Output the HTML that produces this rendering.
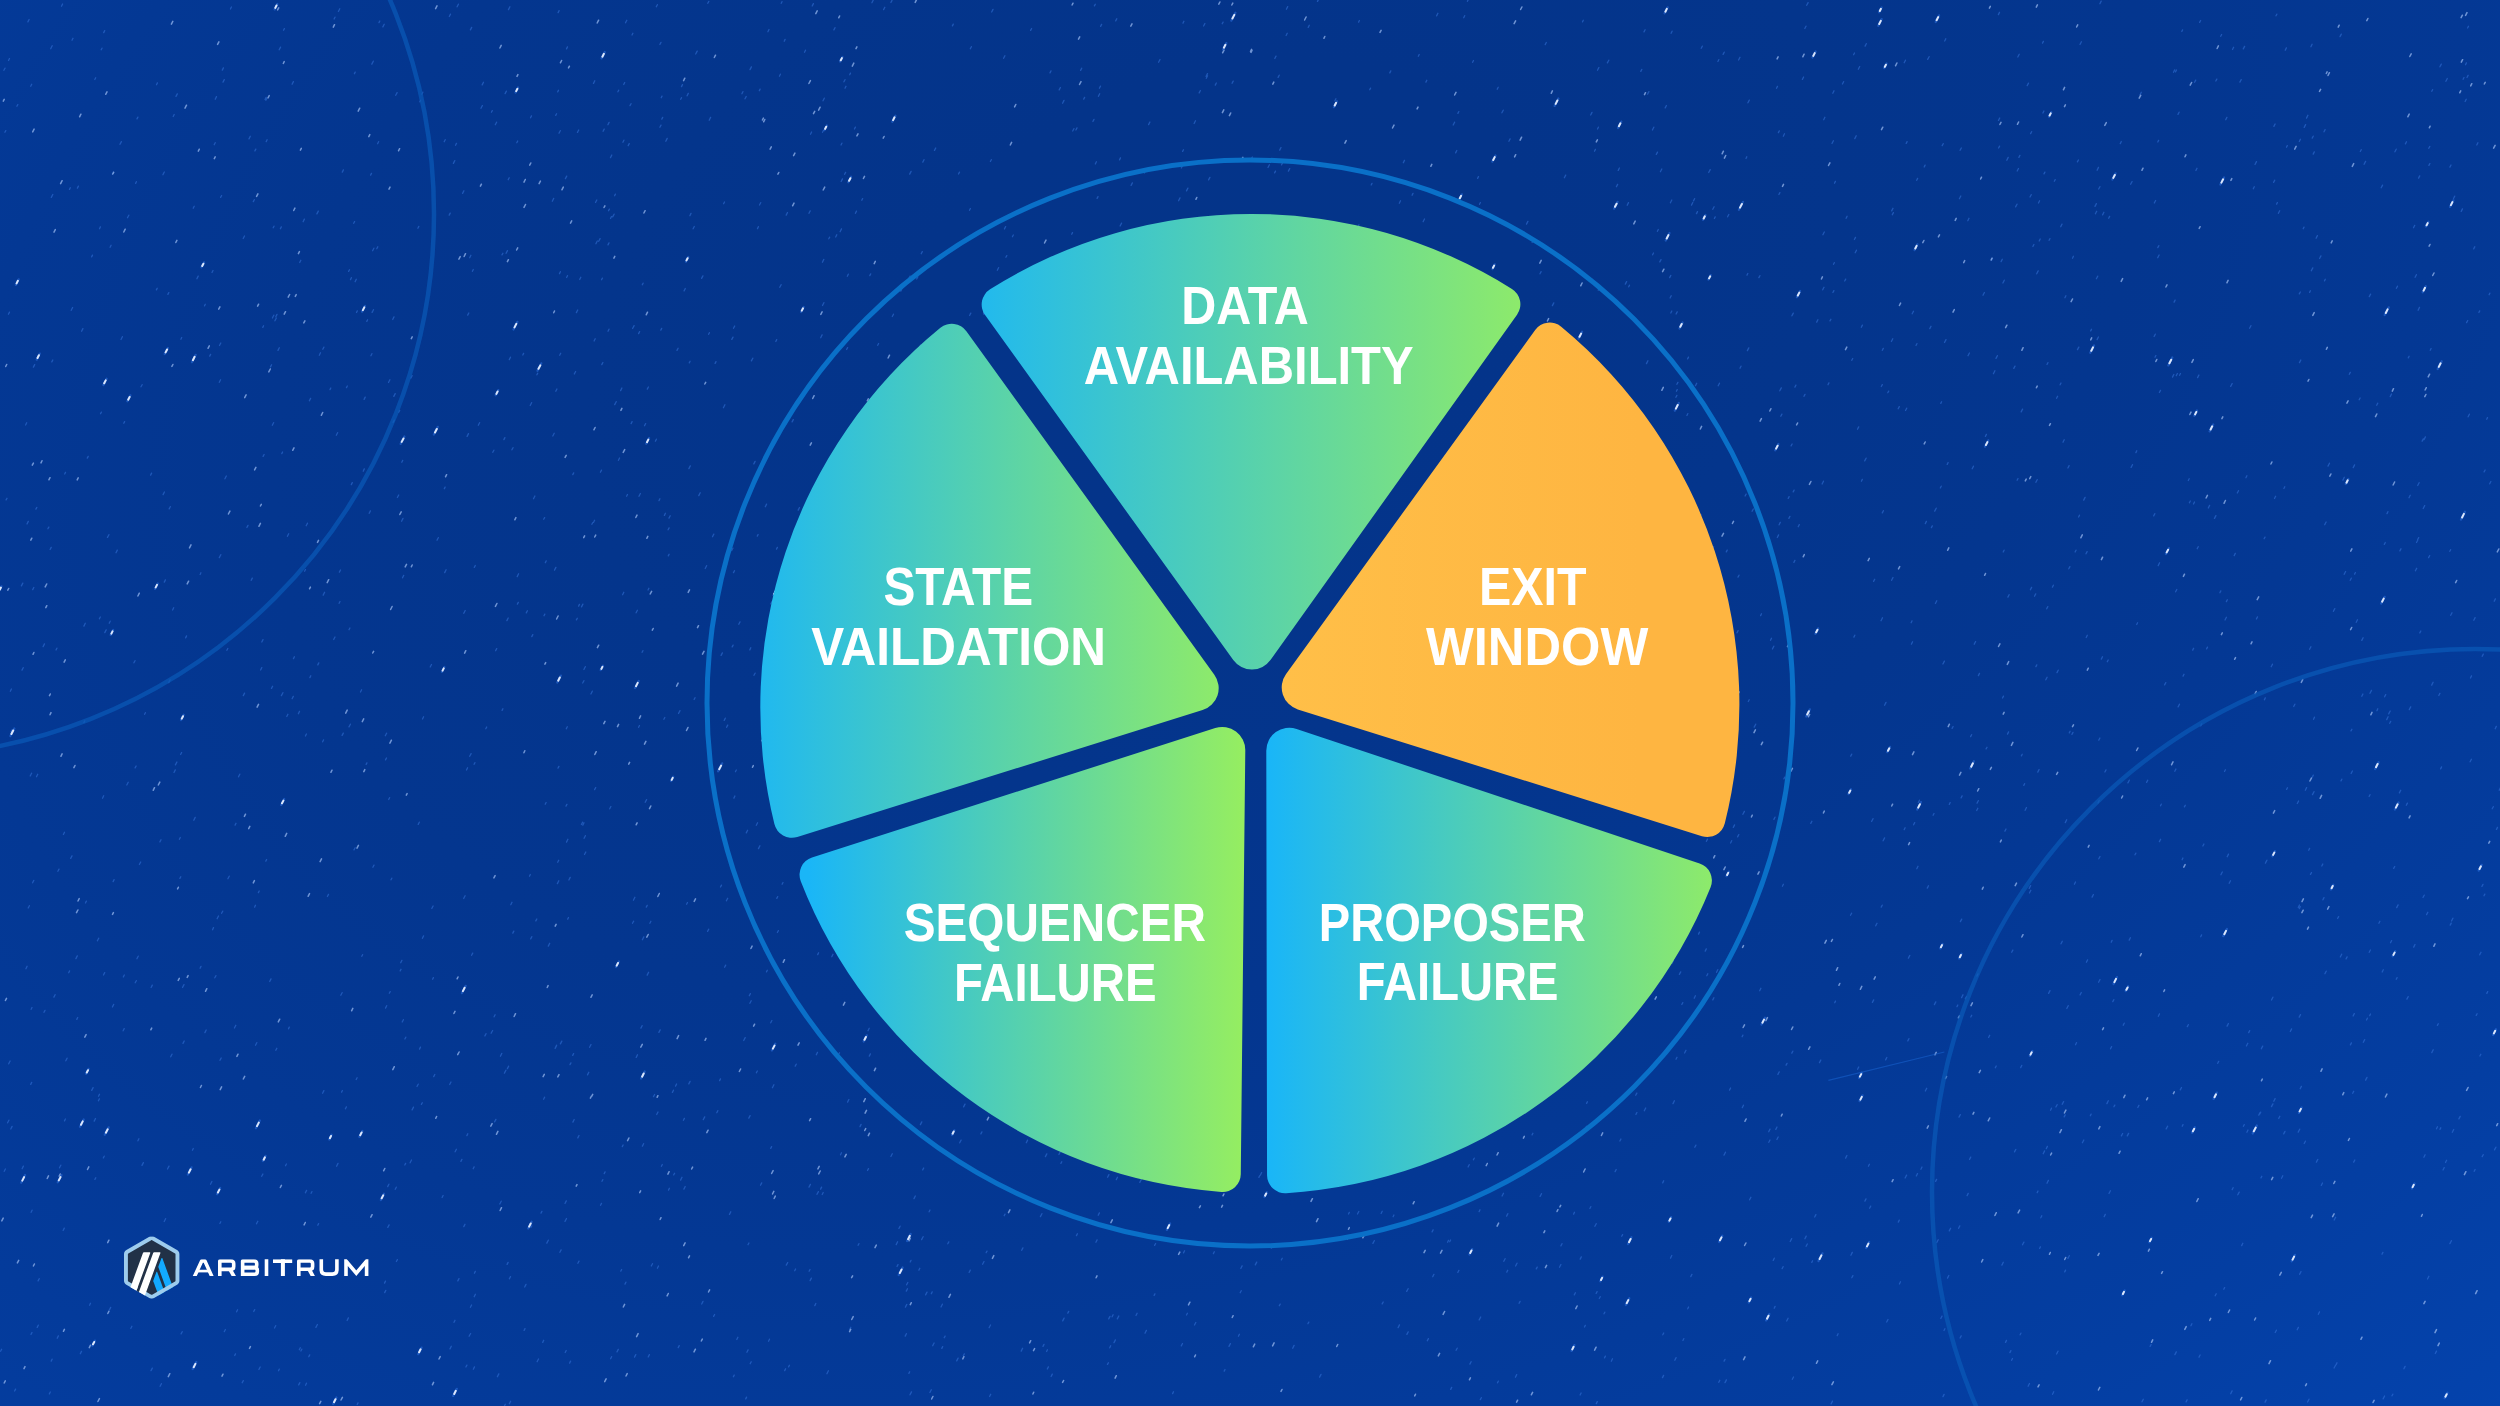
<!DOCTYPE html><html><head><meta charset="utf-8"><style>html,body{margin:0;padding:0;background:#04378f}body{width:2500px;height:1406px;overflow:hidden}svg{display:block}text{font-family:"Liberation Sans",sans-serif;font-weight:700}</style></head><body>
<svg width="2500" height="1406" viewBox="0 0 2500 1406">
<defs>
<radialGradient id="bg" gradientUnits="userSpaceOnUse" cx="0" cy="0" r="1" gradientTransform="translate(1210,300) rotate(-21.6) scale(2600,1784)"><stop offset="0.000" stop-color="rgb(4,51.7,137.0)"/><stop offset="0.125" stop-color="rgb(4,52.0,137.7)"/><stop offset="0.250" stop-color="rgb(4,52.9,139.8)"/><stop offset="0.375" stop-color="rgb(4,54.3,143.3)"/><stop offset="0.500" stop-color="rgb(4,56.4,148.2)"/><stop offset="0.625" stop-color="rgb(4,59.0,154.5)"/><stop offset="0.750" stop-color="rgb(4,62.3,162.2)"/><stop offset="0.875" stop-color="rgb(4,66.1,171.3)"/><stop offset="1.000" stop-color="rgb(4,70.5,181.8)"/></radialGradient>
<linearGradient id="gDATA" gradientUnits="userSpaceOnUse" x1="941" y1="0" x2="1567" y2="0"><stop offset="0" stop-color="#1AB6F7"/><stop offset="1" stop-color="#96EE60"/></linearGradient>
<linearGradient id="gSTATE" gradientUnits="userSpaceOnUse" x1="733" y1="0" x2="1255" y2="0"><stop offset="0" stop-color="#1AB6F7"/><stop offset="1" stop-color="#96EE60"/></linearGradient>
<linearGradient id="gSEQ" gradientUnits="userSpaceOnUse" x1="809" y1="0" x2="1246" y2="0"><stop offset="0" stop-color="#1AB6F7"/><stop offset="1" stop-color="#96EE60"/></linearGradient>
<linearGradient id="gPROP" gradientUnits="userSpaceOnUse" x1="1270" y1="0" x2="1745" y2="0"><stop offset="0" stop-color="#1AB6F7"/><stop offset="1" stop-color="#96EE60"/></linearGradient>
<linearGradient id="gEXIT" gradientUnits="userSpaceOnUse" x1="1282" y1="0" x2="1640" y2="0"><stop offset="0" stop-color="#FFBF48"/><stop offset="1" stop-color="#FEB541"/></linearGradient>
<filter id="sblur" x="0" y="0" width="2500" height="1406" filterUnits="userSpaceOnUse"><feGaussianBlur stdDeviation="0.35"/></filter>
</defs>
<rect width="2500" height="1406" fill="url(#bg)"/>
<g filter="url(#sblur)">
<path d="M809.0 213.3l1.2 -2.4M180.6 754.5l1.0 -2.0M144.6 714.3l0.8 -1.6M1083.7 99.1l0.9 -1.7M1060.9 1163.4l0.9 -1.7M557.4 883.6l1.4 -2.8M2439.9 66.8l1.4 -2.7M723.6 203.7l0.9 -1.7M770.7 1148.4l0.9 -1.8M156.5 84.7l0.9 -1.8M784.8 824.4l1.1 -2.2M748.8 1118.1l1.3 -2.5M609.7 808.8l1.2 -2.3M2187.3 1026.6l1.0 -1.9M2449.9 167.1l1.1 -2.1M1892.3 214.8l1.1 -2.2M97.4 940.8l1.3 -2.6M1432.1 1231.9l1.0 -2.0M1737.6 836.9l1.2 -2.3M1139.8 1182.4l1.4 -2.8M151.1 987.5l1.2 -2.4M2482.2 1156.6l1.0 -1.9M56.0 650.0l0.9 -1.8M292.1 84.2l1.3 -2.6M322.8 349.2l1.1 -2.1M2178.0 114.4l1.1 -2.2M1372.9 1243.4l1.4 -2.7M2159.4 392.5l1.1 -2.1M896.2 1244.6l1.4 -2.8M376.8 248.7l1.0 -1.9M582.7 683.0l1.2 -2.3M656.3 6.8l1.1 -2.1M2382.2 972.0l1.1 -2.2M1949.3 1230.9l1.3 -2.6M258.4 892.6l0.8 -1.6M167.9 294.4l0.9 -1.8M849.7 74.7l0.8 -1.6M377.6 143.7l1.0 -2.0M63.1 1230.5l1.2 -2.4M370.9 355.7l1.0 -2.0M909.7 174.1l1.4 -2.7M2482.2 656.3l1.1 -2.2M214.2 144.7l1.0 -2.0M661.4 1166.3l0.9 -1.8M57.2 1338.2l1.2 -2.3M366.1 764.5l0.8 -1.6M1319.6 1377.1l1.4 -2.7M1740.0 368.2l1.0 -2.0M417.0 1086.5l1.2 -2.3M1947.2 464.4l0.9 -1.9M2028.1 1386.2l1.4 -2.7M2014.5 1151.9l1.3 -2.5M566.3 728.8l1.0 -2.0M72.0 40.2l1.0 -1.9M647.2 975.1l1.4 -2.8M1117.3 1318.9l1.5 -2.9M2387.0 513.6l0.9 -1.9M566.6 277.5l0.9 -1.8M1559.5 1267.2l1.4 -2.7M1998.5 120.4l1.2 -2.4M2273.8 1101.2l1.3 -2.6M1972.2 468.8l1.3 -2.6M2428.6 557.6l1.1 -2.1M2366.5 1020.0l0.9 -1.8M316.9 213.9l1.4 -2.8M2015.6 206.9l1.4 -2.7M2450.2 925.1l1.0 -2.0M1371.2 185.0l0.8 -1.6M2426.6 914.6l1.2 -2.3M2333.4 611.3l1.4 -2.7M2064.9 297.7l1.0 -1.9M731.8 339.4l1.2 -2.3M648.0 590.0l0.9 -1.7M2274.5 498.5l1.1 -2.2M1457.8 1272.5l1.1 -2.1M2293.7 706.5l1.2 -2.3M1308.2 27.4l1.1 -2.1M457.1 6.8l1.3 -2.6M430.2 667.0l1.3 -2.5M1960.1 150.3l1.2 -2.3M620.6 390.6l1.3 -2.6M1899.4 1284.0l1.1 -2.2M1194.5 1325.0l1.3 -2.5M2190.9 1325.7l1.0 -1.9M1398.1 1327.6l1.4 -2.7M342.3 172.1l1.1 -2.2M180.9 339.2l0.8 -1.7M1673.0 1103.6l1.4 -2.8M385.5 1008.1l1.2 -2.4M2418.1 310.2l1.4 -2.8M2474.2 1171.3l0.9 -1.8M847.3 276.2l1.0 -2.0M1804.8 28.5l1.2 -2.3M1100.6 26.4l1.0 -2.0M160.1 1386.3l1.3 -2.6M2428.8 148.3l1.0 -1.9M98.5 1096.2l1.0 -1.9M323.2 595.1l1.4 -2.8M2047.0 364.5l0.9 -1.8M2297.3 803.5l1.3 -2.5M223.0 82.1l1.3 -2.5M1062.6 103.2l1.4 -2.8M1585.7 1127.9l0.9 -1.7M2139.9 95.0l1.4 -2.7M1382.2 1303.9l1.0 -1.9M322.6 741.8l1.0 -1.9M273.2 227.8l0.8 -1.6M503.9 439.6l1.0 -2.0M1898.2 408.8l1.1 -2.2M444.3 488.7l0.8 -1.6M625.5 22.8l1.3 -2.5M1186.5 1315.0l0.9 -1.7M2046.7 608.8l1.1 -2.2M2086.0 553.8l1.1 -2.2M1718.8 1382.3l1.0 -2.0M2080.1 994.9l1.2 -2.4M135.6 183.4l0.8 -1.7M1851.8 360.3l0.9 -1.8M210.5 1184.2l1.4 -2.7M1675.9 397.3l1.0 -1.9M732.2 646.9l0.9 -1.8M2403.9 1368.7l1.2 -2.3M610.6 1358.7l1.0 -2.0M890.9 2.5l1.1 -2.1M502.1 710.4l0.8 -1.6M659.9 127.2l1.1 -2.1M103.7 32.6l1.0 -2.0M581.4 824.5l1.2 -2.3M1875.7 925.8l1.3 -2.5M2197.2 548.7l1.0 -2.0M2461.2 211.4l1.3 -2.5M1607.4 62.9l1.4 -2.7M2229.2 883.3l1.3 -2.5M2030.0 197.0l1.2 -2.3M1260.3 1175.2l1.3 -2.6M2065.3 822.6l1.4 -2.8M1706.8 975.7l1.0 -1.9M77.4 188.1l1.0 -2.0M261.7 1176.3l1.2 -2.3M7.6 1122.8l1.3 -2.6M1647.6 94.1l1.3 -2.5M630.0 105.6l1.0 -1.9M1822.7 289.8l1.3 -2.5M2438.8 695.5l1.1 -2.1M1916.8 868.7l1.2 -2.4M193.2 208.2l1.0 -1.9M1857.5 429.2l1.2 -2.3M30.7 86.2l1.0 -1.9M1679.4 974.4l1.3 -2.5M726.6 727.3l1.1 -2.2M1165.1 168.0l1.4 -2.8M497.4 1376.7l1.4 -2.8M43.1 646.6l1.4 -2.7M2419.8 632.9l1.0 -1.9M524.1 1330.4l0.9 -1.8M1453.1 200.4l1.2 -2.3M2381.2 187.8l1.4 -2.7M1271.2 1248.2l1.3 -2.5M577.9 1263.3l1.1 -2.2M61.5 6.2l1.1 -2.2M351.3 484.6l1.0 -2.0M2099.9 3.7l1.3 -2.6M2097.1 170.2l1.4 -2.8M1782.1 1268.6l1.0 -1.9M2496.5 829.4l1.0 -2.0M120.0 144.3l1.4 -2.7M713.6 1316.4l1.0 -1.9M663.9 719.3l0.9 -1.8M932.7 1345.7l1.4 -2.7M2029.2 888.4l1.4 -2.8M2351.1 773.5l1.3 -2.5M123.1 1030.8l1.1 -2.2M1881.2 907.1l1.0 -1.9M317.8 664.9l1.0 -2.0M743.7 1040.5l1.5 -2.9M649.9 923.3l1.0 -2.0M417.9 228.2l0.9 -1.8M2264.4 699.8l0.9 -1.9M2265.1 1402.1l1.1 -2.2M348.6 271.4l0.9 -1.7M854.4 129.0l1.0 -1.9M645.2 802.3l1.4 -2.7M1873.6 581.4l1.1 -2.1M845.0 88.2l1.0 -1.9M2418.6 178.1l1.1 -2.2M1573.6 1214.1l0.9 -1.8M677.0 350.4l1.1 -2.1M1114.0 1342.6l1.4 -2.7M2181.8 31.5l0.8 -1.6M1773.2 1260.4l1.1 -2.2M1467.4 1.3l1.1 -2.1M2316.4 1162.1l1.4 -2.7M2430.2 350.2l0.9 -1.7M385.3 735.7l1.3 -2.5M2353.1 1016.0l1.2 -2.4M1911.4 644.1l1.2 -2.3M98.4 1100.8l1.0 -1.9M2299.3 908.6l1.0 -2.0M319.3 355.2l1.2 -2.4M1746.0 158.5l0.8 -1.7M969.6 315.5l1.2 -2.4M25.6 425.0l1.1 -2.2M2396.7 907.6l1.4 -2.7M617.0 1351.9l1.3 -2.5M767.9 31.7l1.1 -2.2M642.4 939.7l1.4 -2.8M566.5 48.9l1.0 -2.0M494.6 1121.9l1.3 -2.5M2424.0 439.6l1.4 -2.7M576.4 312.6l1.3 -2.6M736.8 1339.5l1.1 -2.2M467.7 315.1l1.1 -2.1M1662.8 1334.8l0.9 -1.8M982.9 300.8l1.5 -2.9M354.4 73.7l0.8 -1.6M982.6 1264.2l1.4 -2.7M1831.1 1403.9l1.4 -2.8M822.4 262.2l1.4 -2.8M1865.1 46.1l1.2 -2.4M828.8 238.8l0.8 -1.6M698.8 495.6l1.4 -2.8M308.8 1356.7l0.9 -1.8M890.9 1156.5l1.4 -2.7M1080.6 70.4l1.1 -2.2M931.3 1293.7l0.9 -1.8M910.2 1262.0l0.8 -1.6M1026.3 1142.7l1.3 -2.6M101.2 49.8l0.8 -1.6M2299.5 362.6l1.3 -2.6M2245.9 477.7l1.0 -1.9M2393.7 868.4l1.0 -1.9M1791.1 445.9l1.0 -1.9M8.7 1063.8l1.4 -2.8M1584.5 1327.0l0.8 -1.6M583.9 669.5l1.4 -2.8M2384.3 544.4l1.0 -1.9M2319.6 258.5l1.3 -2.6M1845.6 1158.1l1.3 -2.6M798.2 510.1l1.3 -2.6M196.9 278.7l1.3 -2.6M617.9 91.8l0.8 -1.6M2449.9 1243.6l1.5 -2.9M661.8 119.1l0.9 -1.7M1684.6 1053.0l1.4 -2.7M1660.4 171.7l1.4 -2.7M733.9 798.1l1.0 -2.1M1844.7 281.0l1.0 -1.9M612.7 216.9l1.4 -2.7M989.6 1396.5l1.1 -2.2M577.8 1137.9l1.2 -2.4M2476.8 145.0l1.1 -2.2M2047.0 1183.2l1.4 -2.8M100.5 413.8l0.9 -1.7M473.3 1369.2l1.2 -2.3M2324.7 524.7l1.4 -2.7M1944.0 1330.5l0.9 -1.7M543.7 519.3l0.9 -1.7M509.3 359.6l1.2 -2.4M1628.7 286.8l0.8 -1.6M817.7 954.6l0.9 -1.8M779.8 287.3l1.3 -2.6M1369.7 89.8l0.9 -1.7M1597.5 129.0l0.9 -1.8M1738.0 577.1l1.0 -1.9M768.5 1341.2l1.0 -2.0M1040.4 1216.6l1.5 -2.9M908.8 278.5l1.3 -2.5M508.5 9.6l1.4 -2.8M1058.9 1154.5l1.1 -2.1M2206.6 648.9l0.9 -1.8M36.5 776.7l1.2 -2.4M2273.9 126.4l1.2 -2.4M364.1 399.4l1.1 -2.3M2313.2 154.1l1.1 -2.2M2011.6 1360.3l0.9 -1.8M315.9 1327.4l1.5 -2.9M1206.1 76.4l1.4 -2.8M969.1 1272.5l1.2 -2.4M2060.7 226.7l1.3 -2.6M554.5 570.1l1.4 -2.7M2072.5 258.2l0.9 -1.9M958.5 174.0l1.0 -1.9M1811.8 1262.4l0.8 -1.6M94.9 1179.4l0.9 -1.7M57.9 871.3l1.1 -2.2M587.5 1074.9l1.3 -2.6M1182.6 151.4l0.9 -1.7M1075.9 130.0l1.1 -2.1M1274.8 58.5l1.2 -2.4M204.9 1032.6l1.3 -2.6M1278.1 77.4l1.1 -2.2M944.2 1337.8l0.9 -1.7M2142.0 1401.8l1.3 -2.5M2036.7 273.8l1.5 -2.9M1229.0 1346.4l1.4 -2.8M412.1 1109.9l1.4 -2.8M163.1 494.6l1.3 -2.6M396.4 1261.5l1.0 -1.9M2038.5 203.0l1.1 -2.2M2299.3 293.9l1.0 -1.9M91.6 256.9l0.9 -1.8M2340.3 957.0l1.4 -2.8M421.4 1104.4l0.9 -1.7M898.9 1228.5l1.2 -2.3M1449.7 1241.7l0.9 -1.7M2481.9 886.5l1.1 -2.1M1993.4 373.7l1.5 -2.9M1911.1 622.7l0.9 -1.8M1858.3 69.2l1.4 -2.7M633.4 900.2l1.5 -2.9M781.2 3.3l0.8 -1.6M372.9 867.2l1.1 -2.1M1281.3 1260.0l0.9 -1.7M567.7 919.1l0.8 -1.6M6.1 499.9l0.9 -1.7M892.3 316.5l1.2 -2.3M1472.1 288.3l1.2 -2.4M1186.5 190.9l1.4 -2.8M608.5 210.8l0.9 -1.7M1594.9 1226.3l1.3 -2.6M28.2 908.0l1.2 -2.3M1108.7 1318.9l1.3 -2.5M620.8 1271.1l0.8 -1.6M593.5 83.4l1.3 -2.6M30.2 776.0l1.4 -2.8M355.1 281.7l1.2 -2.4M2032.9 246.5l1.0 -2.0M750.0 69.6l1.4 -2.7M1957.0 1006.6l0.8 -1.6M2110.5 1048.8l1.1 -2.2M1853.9 637.1l0.9 -1.9M262.8 327.4l0.8 -1.6M838.2 1055.3l1.3 -2.5M2112.8 1001.6l1.0 -1.9M1970.6 736.6l1.0 -1.9M1604.5 1357.9l0.9 -1.8M2199.6 22.4l1.0 -1.9M589.6 1047.3l1.4 -2.8M1864.7 460.9l1.4 -2.7M820.7 337.7l1.4 -2.8M1662.5 1377.6l1.1 -2.2M2098.6 982.2l1.4 -2.7M529.5 876.2l0.8 -1.7M2276.6 204.1l0.8 -1.6M861.8 200.2l0.8 -1.6M103.5 975.0l1.2 -2.4M1742.1 1036.7l0.8 -1.6M2043.2 1153.7l1.4 -2.8M164.2 1221.5l1.4 -2.8M2360.3 151.5l0.9 -1.8M279.2 49.8l1.4 -2.7M2029.4 893.0l1.4 -2.7M249.0 138.9l1.3 -2.6M511.9 449.8l1.1 -2.1M51.8 361.9l1.0 -1.9M1788.9 518.4l1.0 -2.0M2409.3 709.6l1.4 -2.7M1545.2 44.6l1.1 -2.1M866.4 991.9l1.2 -2.3M541.0 1213.1l0.9 -1.7M2049.1 240.3l0.8 -1.6M504.4 1073.1l1.5 -2.9M10.3 691.2l1.1 -2.2M1991.4 260.5l1.1 -2.2M867.5 1170.5l1.0 -1.9M2359.2 399.8l0.9 -1.8M1748.3 701.5l0.9 -1.7M1590.7 115.0l1.3 -2.6M1742.3 1107.6l1.2 -2.4M986.1 1252.8l0.9 -1.7M2220.7 36.3l0.9 -1.8M657.4 1268.2l1.1 -2.2M947.8 1243.8l1.0 -1.9M1885.6 1059.9l1.2 -2.4M387.7 1186.6l1.2 -2.4M1854.4 239.5l1.1 -2.1M1933.1 815.2l0.9 -1.7M1154.6 1245.4l1.0 -1.9M478.3 425.2l1.3 -2.5M2108.7 218.2l0.9 -1.8M618.4 460.3l1.2 -2.3M401.8 462.2l0.9 -1.8M2437.4 1025.4l0.9 -1.7M2405.4 143.9l1.1 -2.1M2458.9 1118.9l1.3 -2.5M1594.5 151.2l0.9 -1.8M970.3 48.8l1.1 -2.1M1976.9 976.1l1.1 -2.2M354.0 849.9l1.1 -2.1M1851.8 1277.7l1.1 -2.1M1804.9 1238.7l1.3 -2.6M1749.6 1199.8l1.3 -2.5M782.1 884.2l0.9 -1.7M1782.4 886.2l1.0 -1.9M1687.7 1308.8l0.9 -1.8M1635.7 1095.2l1.1 -2.1M1224.2 1371.1l0.8 -1.6M1357.7 227.4l1.3 -2.6M2351.0 730.9l0.9 -1.7M1792.6 721.3l1.2 -2.4M2071.9 734.5l1.1 -2.1M2369.3 296.6l1.3 -2.5M305.5 1385.2l1.0 -2.0M141.0 386.8l1.1 -2.1M32.7 589.6l1.1 -2.1M1745.1 496.0l1.0 -1.9M560.4 1043.9l1.4 -2.8M2003.2 552.0l0.9 -1.8M322.6 1093.2l1.3 -2.6M2409.0 497.7l1.2 -2.4M2046.3 1148.6l1.1 -2.2M735.4 771.7l0.9 -1.7M2083.7 500.1l1.4 -2.7M668.1 529.8l1.0 -1.9M1064.9 262.1l0.8 -1.6M1804.0 396.3l1.0 -1.9M754.0 675.3l1.1 -2.1M905.4 1307.1l1.4 -2.7M142.0 1165.4l1.4 -2.8M1959.4 198.7l1.4 -2.7M1582.5 21.9l0.8 -1.6M2378.9 923.2l1.0 -1.9M253.3 201.6l1.0 -1.9M1940.3 488.0l0.9 -1.8M2259.8 1114.0l0.9 -1.8M2227.2 856.7l1.3 -2.6M1670.5 1258.1l1.3 -2.6M2096.4 278.7l1.3 -2.5M1095.9 1242.2l1.2 -2.3M660.8 330.1l0.9 -1.7M1232.1 83.3l1.1 -2.2M360.5 692.0l1.1 -2.2M1348.5 1214.0l0.8 -1.6M2101.3 659.1l1.2 -2.3M1662.7 1182.9l1.0 -2.1M1046.6 1351.5l0.8 -1.7M70.7 858.4l1.3 -2.5M2328.0 466.1l1.5 -2.9M2243.3 48.9l1.3 -2.5M2153.7 515.9l1.1 -2.2M526.3 612.9l1.1 -2.1M1384.6 1163.4l1.0 -2.0M2068.8 568.8l1.1 -2.2M678.5 713.5l1.5 -2.9M1635.9 1114.5l1.0 -2.0M792.1 421.9l1.2 -2.3M1586.6 1103.4l0.8 -1.6M1806.1 1246.3l1.2 -2.3M123.8 423.2l0.8 -1.6M474.2 1296.7l1.2 -2.4M1644.3 1110.8l1.4 -2.8M530.7 938.9l1.1 -2.2M1906.2 143.4l0.9 -1.8M91.7 1090.4l1.4 -2.8M2055.9 1107.0l1.2 -2.3M644.5 425.7l1.1 -2.1M1604.0 1313.8l0.8 -1.6M1418.3 56.2l0.9 -1.7M2025.1 810.3l1.4 -2.8M1115.7 20.9l1.1 -2.1M1479.2 1319.9l1.5 -2.9M254.6 907.1l0.9 -1.8M379.0 22.6l0.8 -1.6M1708.7 172.5l1.5 -2.9M219.9 1223.5l0.9 -1.7M44.0 1012.3l1.0 -1.9M1833.5 264.3l0.8 -1.6M1934.4 1004.6l1.4 -2.7M1823.7 119.7l1.2 -2.4M1772.4 649.0l1.4 -2.8M634.5 1357.1l1.3 -2.5M27.9 21.9l1.2 -2.4M2042.9 113.0l1.0 -2.0M1822.9 234.7l1.4 -2.7M1215.3 85.1l1.0 -2.1M1691.5 205.1l1.3 -2.6M963.6 1106.9l1.4 -2.8M1961.1 797.9l1.0 -2.0M151.0 1370.6l1.3 -2.5M2067.9 468.0l1.2 -2.4M2443.0 1170.0l1.2 -2.4M770.8 603.9l1.4 -2.7M1503.8 1261.3l1.3 -2.6M707.8 3.3l1.0 -1.9M2039.6 1248.5l0.8 -1.6M2082.4 1142.7l1.4 -2.7M2127.3 1135.9l1.3 -2.5M2283.9 488.5l0.9 -1.7M500.4 1056.2l1.4 -2.8M584.5 854.5l1.3 -2.5M636.2 1057.4l1.3 -2.6M1148.6 124.6l1.3 -2.6M1929.8 328.6l1.2 -2.3M2241.7 1245.6l1.1 -2.3M472.4 271.3l0.9 -1.8M1752.1 511.3l1.2 -2.3M371.8 64.1l1.5 -2.9M934.5 150.4l1.2 -2.4M1967.8 220.7l1.2 -2.4M50.7 48.7l1.5 -2.9M2164.6 684.9l1.2 -2.3M653.5 1096.6l1.1 -2.1M2365.6 1080.1l1.4 -2.7M2408.3 357.9l0.8 -1.6M502.0 254.9l0.9 -1.7M126.8 785.0l1.4 -2.7M1145.0 1333.2l1.4 -2.8M159.9 841.9l1.1 -2.1M299.3 1349.7l1.0 -1.9M2390.5 942.7l1.1 -2.1M1120.1 226.0l1.5 -2.9M2478.9 312.5l0.8 -1.6M639.0 496.3l1.4 -2.8M2261.0 1177.9l0.8 -1.6M1965.3 998.9l1.2 -2.4M2463.1 79.3l0.9 -1.8M1886.7 1322.0l1.3 -2.5M746.3 832.9l1.3 -2.6M263.1 456.4l1.0 -1.9M309.9 677.6l0.9 -1.8M595.5 202.5l1.3 -2.5M31.1 1009.3l0.9 -1.8M89.6 1305.2l0.9 -1.9M2334.2 1220.0l1.4 -2.7M349.0 629.7l0.9 -1.7M2321.3 1185.4l1.2 -2.4M2057.0 672.6l1.2 -2.4M356.5 312.5l0.8 -1.6M1783.9 778.9l0.9 -1.8M2176.3 375.6l1.1 -2.1M388.5 382.5l1.4 -2.7M835.7 237.0l1.1 -2.2M794.7 1270.7l0.9 -1.7M2445.9 81.3l1.4 -2.8M1670.1 298.0l1.1 -2.2M715.1 363.4l0.9 -1.8M910.0 1394.8l1.5 -2.9M2312.2 138.1l1.0 -1.9M2239.9 82.1l1.3 -2.5M733.4 1376.7l0.8 -1.6M2017.1 480.2l0.9 -1.7M4.2 1171.3l1.2 -2.3M463.8 613.3l1.4 -2.8M545.2 804.2l0.9 -1.7M449.7 1084.5l1.3 -2.5M491.4 112.3l0.9 -1.7M684.1 290.9l1.2 -2.4M1768.8 1142.3l1.2 -2.3M505.1 93.6l1.3 -2.5M137.9 1140.8l1.0 -2.0M2104.2 1216.6l1.1 -2.2M38.1 1280.9l1.1 -2.2M2179.6 375.3l0.9 -1.8M2078.6 517.0l0.9 -1.8M11.0 731.9l1.1 -2.2M1288.4 171.1l1.3 -2.5M2040.8 1217.8l1.0 -2.0M1777.3 537.5l1.3 -2.6M2384.6 696.8l1.1 -2.2M51.2 1361.1l0.9 -1.9M455.5 145.3l1.0 -1.9M2042.5 43.1l0.9 -1.7M1747.0 275.1l0.8 -1.6M256.5 1223.8l1.3 -2.5M112.4 174.1l1.1 -2.2M304.6 571.2l0.9 -1.7M1479.1 1211.6l0.9 -1.8M410.1 1162.8l1.4 -2.8M2098.8 740.1l1.1 -2.1M2352.7 1093.3l1.0 -2.0M600.4 472.2l1.1 -2.1M2452.3 1132.3l1.4 -2.8M2037.2 1192.6l0.8 -1.6M1292.7 1348.2l1.4 -2.8M622.6 594.7l1.2 -2.4M172.6 610.0l1.1 -2.2M51.3 197.4l1.5 -2.9M1940.8 1318.5l1.2 -2.4M2022.5 1244.8l1.4 -2.7M85.4 903.0l1.0 -1.9M1695.5 385.6l1.2 -2.3M2310.5 874.4l1.0 -1.9M2376.7 405.2l1.0 -2.0M1618.2 170.4l1.2 -2.4M2389.7 723.3l1.0 -1.9M370.6 175.1l0.9 -1.7M733.5 572.6l1.0 -1.9M607.9 124.7l1.2 -2.3M2098.8 858.8l1.2 -2.3M1625.3 284.1l1.3 -2.5M775.8 341.5l0.9 -1.9M1463.7 17.7l1.0 -2.0M2154.1 336.5l1.2 -2.3M2468.1 416.8l1.3 -2.6M395.7 95.3l1.4 -2.7M1099.4 88.2l1.1 -2.1M272.4 318.0l1.4 -2.8M1846.1 218.3l1.0 -2.0M1540.1 1196.4l1.4 -2.7M1857.6 1069.2l1.1 -2.2M1961.6 997.6l1.4 -2.8M317.8 1225.2l0.8 -1.6M1913.6 824.8l1.1 -2.2M2406.3 805.2l1.1 -2.1M1958.6 1228.3l1.2 -2.4M731.7 550.5l1.2 -2.3M1967.1 1195.6l1.1 -2.2M759.5 205.0l1.2 -2.3M1453.2 125.0l1.4 -2.8M809.0 1187.1l1.4 -2.7M2396.4 288.3l1.1 -2.1M2276.0 15.8l0.8 -1.6M2300.2 1088.7l1.2 -2.3M2495.2 728.7l1.1 -2.3M1712.6 548.7l1.0 -2.0M2369.2 952.3l1.2 -2.3M246.9 527.5l1.1 -2.1M2199.0 1357.2l1.1 -2.2M2489.7 483.8l1.2 -2.3M2039.2 241.0l1.0 -2.0M2445.5 1162.5l1.1 -2.2M1724.0 1155.1l1.5 -2.9M2219.9 592.7l0.9 -1.8M724.2 720.4l1.1 -2.2M469.7 257.7l1.2 -2.4M2484.0 895.7l0.8 -1.6M766.5 971.9l0.8 -1.6M760.5 1185.2l1.2 -2.3M1669.7 277.6l1.1 -2.2M2492.2 808.8l1.1 -2.1M303.1 221.7l1.3 -2.6M266.2 141.6l0.9 -1.8M1532.1 1134.9l0.8 -1.6M30.7 1084.4l1.0 -2.0M1788.2 498.4l0.9 -1.8M665.8 141.2l1.4 -2.8M1456.1 1350.3l1.1 -2.1M109.3 1310.1l1.4 -2.7M786.3 1265.1l1.4 -2.6M758.5 848.6l1.4 -2.8M1238.4 1336.2l1.0 -1.9M552.8 436.0l1.4 -2.7M608.0 244.9l1.0 -2.0M465.9 1367.0l1.0 -1.9M1403.3 162.7l1.2 -2.3M162.9 174.7l1.4 -2.7M877.7 345.3l0.9 -1.8M708.6 334.3l0.8 -1.6M389.3 993.3l0.9 -1.7M673.7 1174.9l0.9 -1.7M1107.6 1177.2l1.3 -2.6M397.4 497.5l1.3 -2.5M941.8 1348.4l0.9 -1.8M2376.9 710.7l0.9 -1.9M1131.1 185.4l1.3 -2.5M651.3 1266.0l1.2 -2.3M919.4 347.4l1.2 -2.4M530.9 1227.4l0.9 -1.7M675.5 1086.1l1.1 -2.1M776.5 549.1l0.9 -1.7M442.1 1197.5l1.0 -2.0M1656.3 154.4l1.2 -2.3M741.9 93.7l1.0 -2.0M565.4 178.6l1.3 -2.5M705.2 568.5l1.4 -2.8M1936.8 1242.5l1.4 -2.7M330.0 389.6l0.8 -1.6M1698.5 934.1l1.0 -2.0M1747.4 350.6l1.4 -2.7M453.4 163.4l1.4 -2.8M1834.7 1002.7l0.8 -1.6M99.5 228.7l0.9 -1.8M757.3 536.1l0.8 -1.6M776.8 898.4l0.9 -1.8M2098.0 802.9l1.3 -2.5M636.1 612.8l1.3 -2.5M871.9 2.7l1.4 -2.7M1940.8 403.4l0.8 -1.6M2135.0 854.8l0.8 -1.6M610.5 157.6l1.3 -2.6M524.7 1287.0l1.3 -2.6M214.8 977.8l1.1 -2.1M1868.4 1166.2l1.0 -1.9M224.3 1331.6l1.1 -2.1M2324.9 973.7l1.3 -2.5M2074.4 884.2l1.1 -2.2M135.2 982.8l1.1 -2.1M1279.3 1305.8l0.9 -1.7M1904.2 62.7l1.3 -2.5M2013.8 368.4l1.2 -2.3M2423.0 897.5l1.2 -2.3M623.7 84.5l1.0 -2.0M1028.6 284.2l1.0 -2.0M340.8 995.2l1.3 -2.5M594.1 341.0l1.1 -2.2M1112.1 1316.8l1.0 -2.0M748.0 1244.7l0.9 -1.7M2037.8 772.1l1.3 -2.6M422.4 938.3l1.2 -2.4M2077.4 161.9l1.0 -1.9M900.8 291.1l0.8 -1.6M701.6 278.4l1.3 -2.5M1119.5 159.9l1.0 -2.0M419.8 101.8l0.8 -1.6M2479.9 1056.0l0.9 -1.7M1792.3 1379.3l1.2 -2.3M271.5 688.4l1.1 -2.1M474.1 764.3l0.8 -1.6M2298.3 907.4l1.2 -2.4M2337.6 918.5l1.0 -1.9M614.6 195.7l0.8 -1.6M1935.6 1181.4l1.0 -2.0M463.7 898.5l1.4 -2.7M2316.1 238.2l1.3 -2.6M2075.5 1044.7l1.0 -2.0M460.9 1161.4l1.0 -2.0M922.7 1169.9l1.0 -1.9M102.5 798.2l1.2 -2.4M2048.6 993.4l1.4 -2.8M2361.8 696.2l1.1 -2.2M393.1 422.4l1.2 -2.3M200.1 968.2l0.9 -1.8M1107.5 1364.4l0.9 -1.7M99.4 618.8l0.9 -1.8M1806.7 5.3l1.4 -2.7M2137.8 1107.5l1.1 -2.1M707.6 931.4l1.1 -2.2M2064.7 1271.9l0.9 -1.8M738.8 624.2l1.2 -2.3M869.8 275.6l0.9 -1.7M2427.5 1279.0l1.4 -2.7M2435.3 1353.5l1.2 -2.4M2027.2 85.6l1.3 -2.5M1427.3 1340.8l1.1 -2.2M858.1 1245.3l0.8 -1.6M471.6 955.3l1.1 -2.2M212.5 929.7l1.0 -2.1M990.4 161.5l0.9 -1.8M2224.5 771.5l0.9 -1.7M2155.0 357.2l0.9 -1.7M566.0 806.1l0.9 -1.7M200.1 574.5l0.8 -1.7M1098.2 1215.2l1.2 -2.3M1786.1 1065.1l0.9 -1.7M2476.2 1015.4l0.9 -1.7M2075.1 552.0l0.9 -1.8M2399.4 792.9l1.3 -2.6M341.6 1092.1l0.8 -1.6M591.9 524.3l0.8 -1.6M749.3 995.7l1.1 -2.1M2220.9 874.7l1.4 -2.7M1406.7 1291.4l1.4 -2.7M419.5 1049.1l1.0 -2.0M1908.4 958.1l1.4 -2.7M306.2 525.7l1.3 -2.5M2369.7 1015.6l0.8 -1.6M1508.9 141.2l1.2 -2.3M2006.8 160.2l1.4 -2.8M1687.6 358.9l0.9 -1.8M1116.3 1179.6l1.2 -2.3M283.5 30.3l0.9 -1.7M2001.1 261.6l1.2 -2.3M724.6 967.2l1.1 -2.1M2020.1 1334.8l0.8 -1.6M855.4 213.3l1.1 -2.2M2182.2 1126.2l0.8 -1.6M455.1 1151.8l1.3 -2.5M395.2 1189.3l1.1 -2.1M2182.1 859.7l0.8 -1.7M822.5 305.5l1.4 -2.8M1472.6 62.3l0.9 -1.8M883.6 9.6l1.2 -2.3M833.9 29.9l1.1 -2.2M2465.5 64.7l0.9 -1.8M1676.9 384.3l1.0 -1.9M2392.0 1395.8l0.8 -1.6M2180.3 1089.9l1.2 -2.4M703.3 1119.6l1.4 -2.7M2346.1 958.9l1.0 -2.0M1907.8 1040.9l1.1 -2.2M150.6 475.1l1.0 -2.0M2470.5 678.0l1.0 -2.1M608.0 331.2l1.0 -2.0M338.4 11.5l1.4 -2.7M421.8 94.2l1.0 -2.0M770.7 1022.8l1.2 -2.3M2342.9 480.1l1.4 -2.8M1457.9 113.4l0.9 -1.8M1450.7 1389.4l1.0 -2.0M1935.4 603.5l1.4 -2.7M168.7 682.6l1.4 -2.8M689.3 362.9l0.8 -1.6M410.8 378.1l1.3 -2.5M545.3 562.7l0.9 -1.8M1506.6 1216.1l1.2 -2.4M491.1 1033.3l1.5 -2.8M1501.9 112.8l1.3 -2.6M2188.3 480.5l0.9 -1.7M469.7 756.3l1.4 -2.7M1599.3 1298.5l0.9 -1.8M816.3 1054.8l1.2 -2.4M843.9 81.8l1.1 -2.1M113.1 881.6l1.0 -2.0M642.1 652.3l0.8 -1.6M2312.5 794.6l1.5 -2.9M139.4 864.5l1.3 -2.5M822.5 132.3l0.9 -1.8M356.2 1079.5l0.9 -1.7M2034.5 596.2l1.2 -2.3M826.6 1042.9l1.0 -1.9M1777.9 1074.5l1.3 -2.6M772.4 1087.7l1.5 -2.9M1307.9 1323.8l0.9 -1.7M22.0 670.1l1.2 -2.4M1934.7 511.1l1.5 -2.9M570.0 1064.6l0.9 -1.7M69.5 189.4l0.8 -1.6M454.0 1322.3l1.0 -2.0M372.6 250.7l1.3 -2.5M2303.2 228.7l0.8 -1.6M1944.5 342.5l1.5 -2.9M860.0 1126.6l1.1 -2.2M809.1 1271.2l0.9 -1.7M1832.8 93.2l1.2 -2.4M1004.2 1215.7l0.8 -1.6M2297.2 1329.8l1.2 -2.4M559.7 355.2l1.0 -1.9M507.4 1068.6l1.2 -2.4M745.7 1398.9l0.9 -1.8M1423.1 221.7l1.4 -2.7M2172.5 377.1l1.3 -2.6M2056.6 398.3l1.0 -2.0M1213.4 1253.6l0.9 -1.8M1706.4 841.3l1.1 -2.2M1447.6 1242.2l0.9 -1.8M2208.3 508.0l1.3 -2.6M2157.7 257.7l1.4 -2.7M2486.7 419.2l0.8 -1.6M278.5 1370.7l0.8 -1.6M2278.4 213.3l1.3 -2.5M243.2 238.5l1.3 -2.5M224.9 478.8l1.4 -2.8M1790.2 1241.5l1.5 -2.9M81.6 331.2l1.3 -2.6M1723.1 54.4l1.1 -2.2M578.6 606.1l0.9 -1.7M49.3 1394.0l1.0 -2.0M2195.9 170.5l1.1 -2.2M339.1 603.3l0.9 -1.8M1712.8 209.3l1.3 -2.5M1251.3 159.0l1.0 -2.0M1240.2 1292.7l1.0 -2.0M537.1 1361.7l1.4 -2.7M1828.0 384.7l0.9 -1.8M661.2 97.7l0.8 -1.6M25.9 968.7l1.2 -2.4M1725.0 1382.6l1.4 -2.7M1793.9 562.4l1.0 -2.0M1047.3 1369.0l1.1 -2.1M357.2 1404.5l0.8 -1.6M1519.1 1303.3l1.0 -1.9M601.5 279.8l0.9 -1.7M2106.9 1103.6l1.4 -2.8M123.3 977.0l1.0 -2.0M788.6 1366.9l0.8 -1.6M1864.9 1201.1l1.1 -2.2M1480.3 1399.6l1.0 -1.9M804.8 885.4l1.2 -2.3M557.7 862.2l1.0 -1.9M2271.2 666.7l1.3 -2.5M552.3 201.2l1.4 -2.8M595.9 243.7l1.4 -2.7M2067.9 1258.4l1.4 -2.7M107.5 537.4l1.4 -2.7M2044.0 173.9l0.9 -1.8M628.2 145.6l1.0 -2.0M2007.5 734.1l1.1 -2.2M219.3 557.6l1.5 -2.9M1737.0 632.8l1.1 -2.2M1995.3 1067.8l0.9 -1.8M1699.9 517.0l1.1 -2.3M593.6 522.3l1.0 -2.0M952.4 25.9l0.9 -1.8M1425.9 82.1l0.9 -1.8M1794.9 387.1l1.0 -2.0M604.2 1173.6l0.9 -1.7M1589.9 1208.5l0.9 -1.8M109.2 623.2l1.0 -2.0M1780.8 416.2l1.1 -2.1M1619.9 1141.0l1.0 -2.0M2311.3 270.8l1.5 -2.9M1779.1 524.8l1.2 -2.4M823.0 100.8l1.3 -2.6M1240.8 1268.5l1.3 -2.6M63.4 834.5l1.1 -2.2M1154.9 1181.5l1.1 -2.1M1183.5 1252.9l1.1 -2.1M2061.0 943.8l1.3 -2.5M1003.6 58.3l1.3 -2.5M1924.2 167.0l0.9 -1.9M192.4 1150.2l0.9 -1.7M220.0 1060.3l1.2 -2.3M136.9 958.7l1.3 -2.5M1206.3 78.3l1.3 -2.5M2494.5 1149.9l1.4 -2.7M363.2 471.2l1.1 -2.3M14.6 1391.0l1.0 -1.9M655.4 441.1l1.0 -1.9M2146.6 782.4l1.1 -2.2M1050.0 72.9l1.0 -2.0M2166.2 1128.9l1.4 -2.7M642.3 284.8l0.8 -1.6M2002.9 283.0l1.4 -2.8M1389.8 72.9l1.0 -2.0M683.4 1120.3l1.0 -1.9M1775.8 1129.4l1.2 -2.4M1136.0 1315.5l1.1 -2.2M2194.6 82.2l1.1 -2.1M1597.5 70.2l1.4 -2.7M179.4 839.3l0.9 -1.8M2305.3 790.2l1.3 -2.6M1686.9 415.5l0.9 -1.8M2095.0 206.4l1.4 -2.8M516.8 142.7l0.9 -1.7M1960.1 1338.0l1.1 -2.1M1646.5 363.6l1.4 -2.8M1714.4 218.5l0.8 -1.6M1738.6 60.0l1.4 -2.7M733.5 328.3l1.2 -2.3M384.5 1283.1l1.0 -2.0M2102.6 214.9l1.3 -2.6M2449.8 551.3l0.8 -1.6M558.0 768.1l0.9 -1.7M285.5 1165.7l0.9 -1.7M2307.6 1402.0l1.4 -2.8M869.3 1056.1l1.1 -2.2M2324.0 131.8l1.1 -2.2M2159.4 841.6l1.2 -2.3M220.6 197.4l1.0 -1.9M2232.2 1189.6l0.9 -1.9M2310.9 46.7l1.2 -2.4M2417.7 485.5l1.4 -2.8M1640.8 71.4l1.0 -2.0M1855.2 252.8l1.3 -2.6M745.0 98.8l1.2 -2.3M238.5 776.8l1.3 -2.6M83.9 722.6l0.9 -1.7M1616.4 186.7l1.2 -2.3M1657.4 231.3l0.9 -1.8M2353.2 467.6l1.4 -2.7M2183.1 676.1l0.9 -1.8M292.1 698.7l1.2 -2.3M293.5 658.6l0.9 -1.8M916.7 279.0l1.1 -2.1M508.2 179.7l1.0 -1.9M2178.1 706.9l1.4 -2.7M37.2 1327.4l1.1 -2.2M1977.0 803.2l1.3 -2.5M572.7 1055.4l0.9 -1.8M659.9 44.5l1.1 -2.1M2225.7 119.7l1.2 -2.3M584.1 838.3l1.3 -2.6M1776.5 88.3l1.0 -1.9M1497.5 1382.8l0.8 -1.6M2035.9 482.3l1.3 -2.6M1154.1 1295.5l0.8 -1.6M2350.2 580.3l1.1 -2.1M219.5 345.5l1.3 -2.5M1696.5 213.6l1.0 -2.0M350.5 279.6l0.9 -1.9M826.9 1373.7l1.5 -2.9M1978.4 675.6l1.1 -2.2M1947.5 1278.1l1.3 -2.6M1590.4 281.0l1.2 -2.4M2113.9 1106.8l0.9 -1.7M1793.2 491.9l0.9 -1.8M2413.7 947.1l1.3 -2.6M336.6 1166.2l1.4 -2.8M2261.3 1048.8l1.4 -2.7M2004.9 831.1l1.1 -2.1M2062.2 1104.3l1.4 -2.7M746.9 1352.2l1.2 -2.3M2364.1 164.3l1.5 -2.9M1968.0 355.7l1.4 -2.7M579.7 279.5l1.1 -2.2M590.9 694.0l1.4 -2.8M1712.8 999.9l1.1 -2.1M1959.0 1117.1l1.3 -2.5M2353.7 1162.1l1.1 -2.1M217.1 918.7l1.4 -2.7M2090.3 1115.7l0.8 -1.6M1222.2 23.8l0.9 -1.7M2030.4 589.8l1.2 -2.4M533.5 498.7l1.4 -2.7M219.3 382.3l1.3 -2.5M2017.2 171.0l1.3 -2.5M103.3 1158.0l0.9 -1.8M678.2 1347.6l1.0 -2.0M559.9 1252.3l1.2 -2.4M2234.2 555.6l1.1 -2.2M2388.7 713.9l1.5 -2.9M473.2 1168.7l0.9 -1.8M1317.5 1.4l0.9 -1.8M2361.8 640.4l1.3 -2.6M626.6 496.2l0.9 -1.7M1381.1 1213.5l1.1 -2.2M941.0 1307.0l1.4 -2.8M1665.2 107.9l1.2 -2.4M1109.7 1347.8l1.0 -2.0M1690.8 1276.6l1.1 -2.2M908.9 1373.4l0.8 -1.6M2086.4 962.2l1.2 -2.3M2227.1 1026.1l1.3 -2.6M87.3 458.1l0.9 -1.7M2382.0 1254.2l0.9 -1.8M116.0 552.7l1.3 -2.6M1905.5 410.5l1.2 -2.3M1051.1 1376.5l1.2 -2.4M2011.7 952.2l1.1 -2.1M2406.9 999.1l1.3 -2.5M693.1 228.8l1.2 -2.3M2064.2 1116.9l1.0 -2.0M349.0 726.9l1.4 -2.7M404.9 1039.0l0.9 -1.8M779.4 76.2l1.0 -2.0M956.7 1360.9l1.4 -2.8M467.1 436.4l1.4 -2.8M492.8 452.3l1.1 -2.1M270.5 366.9l1.1 -2.1M963.3 1355.8l1.0 -1.9M509.4 1278.8l1.1 -2.2M2092.1 897.1l1.3 -2.6M786.2 215.1l1.3 -2.6M1676.0 1059.2l1.0 -1.9M906.3 1291.1l1.2 -2.3M720.5 887.0l1.0 -1.9M1927.7 59.4l1.4 -2.7M2349.3 374.3l1.0 -1.9M174.0 772.5l1.3 -2.6M2018.9 157.4l1.0 -2.0M1611.3 1361.2l1.2 -2.4M1729.5 1090.1l1.1 -2.1M2350.4 1044.9l1.0 -2.0M980.9 1133.9l1.0 -2.0M463.8 1226.6l1.2 -2.3M2253.3 188.8l1.0 -2.0M164.3 582.1l1.1 -2.2M2129.2 940.1l1.2 -2.3M683.9 1189.1l1.3 -2.6M2095.4 213.8l1.3 -2.5M1884.6 705.2l1.4 -2.8M2246.4 1046.0l1.4 -2.7M1621.7 1236.3l0.9 -1.7M1759.7 990.7l1.2 -2.4M687.1 95.8l1.2 -2.4M2060.1 384.8l0.9 -1.8M559.0 133.2l1.3 -2.5M2436.5 1128.8l1.0 -2.0M1747.9 102.8l1.4 -2.7M812.2 6.0l1.2 -2.4M346.5 387.6l0.8 -1.6M2017.8 57.0l1.4 -2.7M275.8 316.8l1.2 -2.4M1983.0 295.2l1.4 -2.7M2021.4 755.9l0.8 -1.6M1944.7 41.0l1.1 -2.2M1059.2 89.9l1.2 -2.4M1810.8 823.4l1.1 -2.1M565.0 1221.4l1.5 -2.9M2009.9 1352.6l1.0 -2.0M2465.1 101.5l1.1 -2.2M333.7 639.5l1.3 -2.5M1770.5 640.3l1.0 -2.0M474.3 567.4l1.0 -1.9M484.9 1035.9l1.1 -2.2M1758.9 277.6l1.0 -1.9M2431.8 1052.6l1.4 -2.8M2299.2 1017.1l1.3 -2.5M156.4 289.9l0.8 -1.6M2158.3 1016.3l1.2 -2.4M659.0 500.6l0.9 -1.8M1580.1 1395.0l1.0 -2.0M110.1 247.3l1.0 -2.0M2246.9 1132.2l1.1 -2.2M254.9 150.9l0.9 -1.8M1942.9 664.0l1.5 -2.9M2278.7 1118.5l1.1 -2.2M2054.3 181.3l0.9 -1.7M522.8 355.0l0.8 -1.6M2271.5 1000.0l1.4 -2.8M2450.7 615.3l1.3 -2.5M959.7 1142.8l1.4 -2.7M334.1 19.0l0.9 -1.8M22.1 1168.7l1.3 -2.6M1158.6 62.2l1.4 -2.7M1334.9 100.8l1.0 -2.0M1560.9 1245.9l1.1 -2.2M1598.2 290.2l1.0 -1.9M2264.1 538.8l0.9 -1.7M1477.6 178.4l0.9 -1.8M1098.4 96.3l1.3 -2.5M133.9 662.8l1.1 -2.1M1681.8 1004.5l1.0 -1.9M1178.6 200.7l1.4 -2.8M1497.2 89.2l1.0 -1.9M2466.6 322.6l1.1 -2.1M1969.5 1159.5l1.2 -2.4M1853.6 54.7l0.9 -1.7M2440.0 1129.4l0.8 -1.6M121.0 339.5l1.4 -2.8M548.3 946.1l1.4 -2.8M1596.1 1293.5l1.0 -1.9M382.9 26.9l1.3 -2.6M258.9 1369.5l1.3 -2.5M466.9 1135.6l0.9 -1.8M1279.7 150.1l1.3 -2.6M2223.8 1289.2l0.8 -1.6M2127.9 782.9l1.4 -2.7M1486.0 1124.9l0.8 -1.7M135.1 767.9l1.0 -1.9M991.7 12.0l1.3 -2.6M59.5 1167.8l1.3 -2.6M1144.3 173.0l1.2 -2.4M517.4 604.1l0.9 -1.7M2440.6 768.9l1.0 -2.0M234.4 1028.0l1.4 -2.7M2120.3 143.6l1.0 -2.1M756.4 1072.8l0.9 -1.8M1515.4 1377.2l1.3 -2.6M16.9 106.3l0.9 -1.7M1730.6 843.0l1.1 -2.3M2290.3 1031.5l1.3 -2.6M2281.5 1178.3l1.3 -2.5M75.9 958.6l1.4 -2.7M1076.5 1235.6l0.9 -1.8M2356.2 622.3l1.3 -2.5M631.1 423.6l1.0 -2.0M810.5 134.2l1.1 -2.2M2451.5 921.0l1.4 -2.8M1905.1 1178.0l1.5 -2.9M1881.3 386.5l1.0 -1.9M1030.6 30.4l1.0 -1.9M2215.2 1295.8l1.0 -2.0M1925.3 1091.0l1.4 -2.7M1986.1 748.9l0.9 -1.7M2063.0 442.2l1.2 -2.4M2413.5 227.7l1.2 -2.3M2344.2 574.3l1.4 -2.8M1724.1 1361.1l0.9 -1.7M530.2 405.5l1.4 -2.8M33.4 367.1l1.3 -2.5M2473.7 248.9l1.1 -2.1M1716.5 972.3l1.3 -2.6M1882.3 350.3l1.0 -1.9M68.7 972.7l0.9 -1.8M648.2 1357.0l1.2 -2.4M759.3 90.7l0.8 -1.6M35.9 509.1l0.9 -1.7M281.4 695.6l1.5 -2.9M1718.2 385.8l1.3 -2.6M444.2 141.7l1.0 -2.0M236.6 1311.8l1.0 -2.0M2080.0 44.5l1.4 -2.7M565.0 1203.5l1.3 -2.6M1676.4 391.2l0.8 -1.6M474.4 1273.2l0.9 -1.8M1652.6 254.8l0.9 -1.8M242.2 1382.7l1.1 -2.1M557.7 91.9l0.8 -1.6M2130.6 184.3l1.5 -2.8M345.4 1108.8l1.0 -1.9M278.0 350.4l1.3 -2.6M712.5 536.7l1.3 -2.6M559.5 273.6l0.9 -1.9M2173.5 72.3l1.2 -2.4M2090.7 330.9l0.8 -1.6M1095.3 164.0l1.1 -2.2M1778.4 132.6l0.9 -1.7M576.4 619.9l0.9 -1.7M169.2 508.9l1.1 -2.2M2341.0 780.9l0.8 -1.7M555.4 1047.5l1.2 -2.3M2174.9 1354.6l1.4 -2.7M274.5 1328.0l1.2 -2.3M598.7 241.3l1.4 -2.7M530.5 117.8l1.0 -1.9M2309.6 649.3l1.3 -2.5M185.6 637.9l1.0 -2.0M512.8 933.1l1.0 -2.0M298.7 1384.9l1.1 -2.2M449.3 16.5l1.2 -2.4M1286.1 35.5l1.1 -2.2M1850.7 756.1l1.0 -1.9M1627.2 205.2l1.3 -2.6M2363.3 1042.3l1.4 -2.7M918.9 1270.1l0.9 -1.8M566.5 842.1l1.4 -2.8M204.5 305.9l0.8 -1.6M1097.1 198.4l0.9 -1.8M1871.6 821.5l1.4 -2.8M31.0 1334.4l1.0 -1.9M2370.0 693.3l1.5 -2.9M1552.4 305.6l1.4 -2.7M504.2 1406.5l1.1 -2.2M565.2 1352.5l1.0 -2.0M1671.1 33.3l1.0 -2.1M404.8 1165.0l0.8 -1.6M1778.9 194.5l1.0 -1.9M300.9 1351.0l0.9 -1.8M342.1 735.4l1.2 -2.3M2215.8 81.0l1.0 -1.9M418.2 824.4l1.1 -2.2M1021.7 1250.3l1.2 -2.4M2150.1 1346.4l1.0 -1.9M2354.6 574.1l0.8 -1.6M2286.5 147.2l0.8 -1.6M723.4 407.7l1.5 -2.9M2175.6 591.8l1.2 -2.3M2121.4 1135.9l1.2 -2.4M1281.5 164.9l1.0 -1.9M2001.9 1265.1l1.4 -2.8M481.0 108.3l1.4 -2.8M1425.2 256.5l1.3 -2.5M638.6 333.6l1.0 -2.0M183.0 1043.4l1.2 -2.4M1998.4 14.6l1.1 -2.2M1694.2 998.2l1.2 -2.4M450.0 1348.9l1.3 -2.6M581.5 606.9l1.4 -2.8M517.2 576.6l1.4 -2.8M2249.6 328.2l1.3 -2.5M1916.7 180.3l0.9 -1.9M536.9 374.8l0.8 -1.6M339.4 572.1l1.1 -2.1M193.8 820.2l1.4 -2.8M1760.6 615.6l0.9 -1.8M1203.6 26.0l1.3 -2.5M401.6 521.2l1.4 -2.8M1916.3 1176.0l1.2 -2.4M2415.1 277.3l1.3 -2.6M751.4 360.9l1.4 -2.7M1502.1 1196.0l1.4 -2.7M1471.6 279.6l0.8 -1.6M680.7 99.3l0.8 -1.6M432.6 979.2l0.8 -1.6M574.3 374.0l1.3 -2.5M2467.6 28.0l0.9 -1.7M2336.1 1364.6l0.9 -1.8M137.0 118.9l0.9 -1.8M227.9 878.7l1.3 -2.5M656.7 1114.5l1.3 -2.5M470.4 1307.3l1.2 -2.3M127.5 217.7l1.3 -2.5M572.9 1122.1l1.3 -2.6M235.1 825.1l0.9 -1.8M1768.7 1131.7l1.3 -2.6M577.5 132.4l1.2 -2.4M1412.1 195.2l0.9 -1.8M1455.6 152.9l1.2 -2.4M601.8 364.6l1.1 -2.1M76.8 1019.4l0.9 -1.9M726.4 900.8l1.3 -2.5M1536.3 1268.9l0.9 -1.8M777.4 932.5l1.0 -1.9M392.7 319.5l1.3 -2.6M2066.8 1008.5l1.4 -2.8M1985.4 436.4l1.0 -2.0M1802.4 79.4l1.2 -2.4M222.3 70.1l1.1 -2.2M2192.7 650.1l0.9 -1.8M298.4 713.7l1.1 -2.3M265.0 99.5l1.1 -2.1M1670.8 313.0l1.0 -2.0M1925.3 523.6l1.1 -2.2M2318.3 1314.3l1.2 -2.4M261.8 642.0l1.2 -2.4M695.7 54.0l1.5 -2.9M2273.6 182.4l1.1 -2.2M170.7 1056.8l1.3 -2.6M1092.9 121.5l1.1 -2.1M234.7 1355.5l0.8 -1.6M719.6 1080.6l0.9 -1.7M265.9 100.2l0.9 -1.8M1329.2 1172.2l0.9 -1.8M433.7 1076.6l1.1 -2.1M844.6 174.3l1.0 -1.9M2428.9 165.4l1.0 -1.9M1850.9 1255.2l1.4 -2.8M1181.3 1345.9l1.2 -2.4M721.1 655.4l1.3 -2.5M1834.5 183.2l0.9 -1.8M2394.9 151.8l1.3 -2.6M846.6 349.5l1.0 -1.9M1172.6 1393.6l0.9 -1.8M2135.9 452.6l0.9 -1.8M1861.4 481.2l0.9 -1.8M1045.4 1156.6l1.4 -2.7M1436.6 15.9l1.3 -2.6M1515.6 1266.0l1.4 -2.8M817.0 1194.3l1.4 -2.7M664.4 515.4l1.0 -2.1M274.9 320.8l1.4 -2.8M2217.7 1063.3l1.0 -1.9M2298.2 1132.1l1.5 -2.9M1819.5 1062.6l1.3 -2.6M632.5 923.3l1.1 -2.1M2098.7 189.0l1.2 -2.3M840.5 1154.8l1.0 -2.0M2109.0 1193.5l1.4 -2.7M347.1 1320.5l1.3 -2.6M1691.9 918.2l0.8 -1.6M2174.8 771.2l1.1 -2.2M847.6 1102.1l1.3 -2.6M2174.1 302.1l1.0 -2.0M622.9 142.2l1.0 -2.0M64.5 1120.9l0.9 -1.9M176.0 96.4l1.3 -2.5M495.6 650.7l1.1 -2.1M2005.5 1342.4l1.0 -2.0M1580.2 1259.1l1.1 -2.2M2248.7 1032.6l1.0 -2.0M2184.4 806.9l0.9 -1.7M1468.1 1167.0l1.1 -2.3M2200.7 936.7l0.9 -1.8M2396.2 979.3l0.9 -1.7M2285.2 50.2l1.2 -2.3M1072.7 131.0l1.2 -2.3M2050.5 1110.2l1.0 -2.0M555.1 1048.5l1.3 -2.6M546.8 1243.1l1.5 -2.9M1774.2 1308.2l0.9 -1.8M753.8 463.9l1.3 -2.5M466.5 770.0l1.1 -2.2M1670.4 202.8l1.4 -2.8M2499.2 790.2l1.3 -2.6M457.8 1280.9l1.2 -2.3M1898.3 1222.1l1.0 -2.0M2309.6 292.4l0.8 -1.6M1255.3 1264.9l1.4 -2.8M2386.7 719.6l1.4 -2.8M1399.3 203.2l1.2 -2.4M2007.9 597.1l1.2 -2.4M647.3 389.1l1.1 -2.1M230.4 9.0l1.0 -2.0M1791.8 1053.1l1.0 -1.9M638.6 727.3l0.9 -1.8M1506.8 1272.1l0.9 -1.8M1872.4 1002.4l1.3 -2.5M680.6 1180.1l1.4 -2.8M130.8 1328.5l1.1 -2.2M215.2 99.2l1.3 -2.6M1693.5 200.9l1.1 -2.2M1596.3 1403.6l1.0 -2.0M1916.0 345.5l0.9 -1.8M402.5 577.8l1.2 -2.4M757.5 228.6l0.9 -1.9M212.0 272.5l1.0 -2.0M2431.7 685.1l1.4 -2.8M1479.5 204.3l0.9 -1.8M182.5 987.5l1.5 -2.9M1726.3 551.9l0.9 -1.8M2160.5 805.8l0.8 -1.6M2123.2 1025.2l1.0 -2.0M1574.3 1294.9l1.1 -2.1M1837.2 1335.6l0.9 -1.8M914.0 1198.6l1.3 -2.6M849.6 1329.6l1.2 -2.3M1005.9 257.3l0.9 -1.7M2243.4 1126.3l0.8 -1.6M2237.3 493.0l1.2 -2.3M2322.9 899.8l1.1 -2.2M1522.4 1106.0l1.0 -1.9M906.6 1284.8l1.2 -2.3M688.9 468.6l1.4 -2.7M400.2 970.9l0.8 -1.6M482.2 84.9l1.3 -2.6M366.8 321.4l0.8 -1.6M658.9 1032.4l1.3 -2.5M2275.2 1332.5l1.2 -2.3M2304.2 127.4l1.4 -2.8M1869.6 1208.2l1.1 -2.1M1883.1 840.8l1.5 -2.9M94.8 79.5l0.9 -1.7M53.9 997.1l1.2 -2.4M280.4 228.7l0.9 -1.8M2423.2 508.5l1.5 -2.9M632.6 328.5l1.5 -2.9M2486.8 993.4l0.9 -1.8M449.2 215.1l1.0 -2.0M1842.4 84.0l1.2 -2.3M1701.2 48.3l1.1 -2.1M1976.7 810.5l1.1 -2.2M2202.9 846.0l1.0 -2.0M989.1 1327.7l1.4 -2.7M2286.6 789.4l0.9 -1.7M437.0 540.2l1.3 -2.5M10.8 1129.0l1.3 -2.6M1286.4 9.2l1.3 -2.6M1021.2 1351.1l1.4 -2.8M2321.8 866.0l1.0 -2.0M2258.8 1115.1l1.3 -2.6M2052.5 1394.3l1.3 -2.5M795.2 1066.1l1.0 -1.9M1526.5 224.1l1.4 -2.7M2306.5 118.1l1.4 -2.8M1891.7 210.9l1.3 -2.6M1432.7 1276.7l1.2 -2.3M1067.8 1313.1l0.9 -1.7M1942.2 145.6l1.0 -1.9M640.9 1028.1l1.2 -2.4M243.3 695.6l1.3 -2.5M535.8 920.9l1.0 -1.9M925.6 1294.9l1.4 -2.8M2494.2 601.2l1.2 -2.3M2020.7 1067.6l1.1 -2.2M2158.2 565.6l1.4 -2.8M1181.3 168.0l1.3 -2.6M361.8 956.3l0.8 -1.6M2470.1 761.8l1.3 -2.5M327.4 896.5l1.1 -2.1M622.3 1146.6l0.8 -1.6M1194.1 123.5l1.4 -2.7M2232.5 49.5l1.1 -2.2M1822.1 484.0l1.4 -2.8M462.6 193.4l1.3 -2.6M299.7 262.5l1.1 -2.2M840.1 231.7l1.4 -2.8M625.0 1284.1l0.9 -1.9M2265.4 863.1l1.5 -2.9M1927.3 888.1l1.2 -2.3M2136.7 624.5l0.9 -1.7M2283.7 1133.9l1.3 -2.5M1861.3 327.3l1.1 -2.2M2056.6 1354.0l1.4 -2.8M400.7 962.7l1.2 -2.3M1012.4 236.7l0.9 -1.7M669.0 518.1l1.2 -2.3M1904.2 829.6l0.9 -1.8M2214.5 518.4l1.4 -2.8M2453.5 198.5l1.2 -2.3M2416.5 542.5l1.2 -2.3M784.2 41.2l0.9 -1.8M309.4 400.8l1.2 -2.4M1406.9 1334.4l1.3 -2.5M905.2 1336.1l1.2 -2.4M1357.5 1214.0l1.3 -2.5M750.2 1363.7l1.0 -1.9M2431.8 91.3l0.8 -1.6M1268.0 167.5l1.4 -2.7M1671.9 963.4l1.4 -2.8M2479.7 954.8l1.3 -2.5M3.9 70.3l1.1 -2.1M2422.1 441.2l1.2 -2.3M21.4 585.9l1.4 -2.8M1473.4 1159.8l0.8 -1.6M506.1 253.3l1.4 -2.7M253.7 1311.5l1.0 -1.9M2200.7 725.9l1.0 -2.0M2415.4 570.8l1.3 -2.5M167.5 1169.0l1.5 -2.9M275.8 1050.2l1.0 -1.9M369.2 513.3l1.2 -2.4M2383.1 1398.9l1.5 -2.9M402.2 1022.0l1.2 -2.3M897.0 1266.5l1.0 -1.9M353.7 223.3l0.9 -1.8M1470.9 1126.9l0.9 -1.8M1358.6 22.1l0.8 -1.6M1891.4 341.5l1.4 -2.7M603.1 131.3l1.1 -2.2M1912.2 313.8l1.3 -2.5M2086.2 637.5l1.1 -2.2M2308.7 850.2l0.9 -1.8M173.2 116.5l1.0 -2.0M221.6 913.3l1.1 -2.1M770.6 721.5l1.4 -2.8M610.5 218.5l1.0 -2.0M810.1 1280.6l1.3 -2.5M1071.7 234.2l0.8 -1.6M305.4 1192.8l1.2 -2.4M391.0 879.8l0.8 -1.6M255.5 1045.2l1.3 -2.5M1652.4 130.0l1.4 -2.8M8.4 314.2l1.1 -2.1M495.3 124.7l1.3 -2.5M2484.1 471.9l1.0 -1.9M1676.1 314.0l1.1 -2.1M1720.6 606.5l0.9 -1.8M175.4 764.9l1.5 -2.9M2299.3 141.5l1.1 -2.2M2021.2 411.9l1.4 -2.8M2035.9 666.6l0.9 -1.7M1208.6 179.9l1.3 -2.5M1742.9 814.3l1.5 -2.9M112.4 1007.0l1.3 -2.6M281.8 453.6l0.8 -1.6M869.4 978.9l1.0 -2.0M1779.8 390.8l1.5 -2.9M1094.4 5.9l0.9 -1.7M1814.7 1217.0l1.2 -2.4M387.8 1227.4l1.3 -2.5M287.4 536.3l1.3 -2.5M8.5 60.5l1.0 -2.0M2186.1 1401.9l1.0 -2.0M2271.5 1106.6l1.4 -2.7M1469.9 1364.1l1.2 -2.4M2369.1 796.5l0.9 -1.8M555.8 391.2l1.1 -2.2M1659.8 261.9l1.2 -2.3M688.8 1083.9l1.3 -2.5M1952.1 728.4l1.0 -1.9M2313.5 719.3l1.0 -2.1M725.4 566.5l1.3 -2.5M2045.8 679.8l1.3 -2.5M531.8 636.6l1.0 -2.0M765.3 506.7l1.3 -2.6M1832.9 292.5l1.0 -1.9M1960.4 921.6l1.3 -2.5M681.5 86.6l1.0 -2.0M80.3 1353.7l1.2 -2.3M1674.8 1360.2l1.3 -2.6M572.8 474.6l0.9 -1.7M1988.6 1037.5l1.1 -2.2M2237.8 1194.8l1.4 -2.7M784.7 1370.6l0.9 -1.8M393.8 396.4l1.4 -2.8M2131.1 467.4l1.4 -2.7M2226.4 601.6l0.9 -1.8M1931.4 527.6l0.9 -1.7M2256.4 619.0l1.1 -2.1M50.1 549.5l1.1 -2.1M27.0 524.0l1.3 -2.6M831.8 956.7l1.2 -2.4M470.4 29.9l1.3 -2.5M499.8 1204.0l1.4 -2.8M582.8 825.1l1.2 -2.3M804.5 52.2l1.0 -2.0M1274.6 172.9l0.9 -1.8M777.8 586.5l1.0 -2.0M2255.0 164.5l1.5 -2.9M600.5 1205.3l1.0 -1.9M94.2 1121.1l1.3 -2.6M672.4 1092.4l1.1 -2.2M2467.0 77.5l1.1 -2.1M568.9 880.0l1.3 -2.6M2104.9 772.0l1.1 -2.1M1998.6 148.0l1.0 -1.9M1881.0 620.7l1.5 -2.9M226.9 650.3l0.9 -1.8M4.9 132.3l0.9 -1.7M1754.2 727.1l1.5 -2.9M422.5 719.0l1.1 -2.2M929.1 1211.8l0.9 -1.8M2193.5 504.0l1.0 -2.0M709.2 120.2l1.4 -2.8M922.8 162.1l1.2 -2.4M820.6 1189.1l1.0 -2.0M1043.0 1346.4l1.0 -2.0M1004.4 229.0l1.2 -2.4M1974.2 644.2l1.4 -2.7M71.2 310.3l1.4 -2.8M1705.2 951.1l1.1 -2.2M431.8 908.5l1.3 -2.5M646.3 907.1l0.9 -1.7M1532.1 242.5l1.1 -2.2M784.5 775.1l0.9 -1.7M336.3 435.2l1.3 -2.5M1949.3 804.4l0.9 -1.9M1105.7 1168.4l1.2 -2.3M1882.3 512.9l1.1 -2.2M2423.9 1157.2l1.2 -2.4M265.8 861.1l0.8 -1.6M2334.1 1368.0l1.3 -2.5M668.5 1190.1l0.9 -1.8M2069.3 732.9l0.8 -1.6M2225.0 620.0l1.4 -2.7M1720.5 750.4l1.4 -2.7M507.1 1264.4l1.0 -2.0M64.7 474.0l0.8 -1.6M179.9 878.4l0.9 -1.7M398.7 412.3l1.0 -1.9M2299.6 1274.3l1.4 -2.7M2473.8 620.2l1.3 -2.6M701.7 1304.0l1.3 -2.6M1830.0 320.9l0.9 -1.7M2312.1 777.5l1.2 -2.4M2154.3 203.0l1.3 -2.5M2390.2 396.6l1.3 -2.6M2077.5 349.6l1.3 -2.5M542.7 1342.4l1.0 -2.1M65.8 1060.8l1.3 -2.6M2189.4 502.8l0.9 -1.8M868.0 1030.7l1.2 -2.4M384.7 1292.6l1.1 -2.2M494.1 1016.8l1.0 -2.0M2030.6 133.6l1.0 -1.9M544.0 615.7l0.8 -1.6M1996.0 358.4l1.4 -2.7M1564.4 177.7l1.3 -2.6M729.5 1214.4l1.3 -2.6M1694.8 1147.2l1.1 -2.1M1682.9 1340.5l0.9 -1.8M251.2 580.3l1.1 -2.2M372.1 312.4l1.4 -2.7M969.5 210.3l0.9 -1.8M1443.1 268.2l1.1 -2.2M1258.9 1177.4l0.8 -1.6M2324.5 280.9l0.8 -1.6M1918.3 802.5l1.2 -2.3M543.6 1099.2l1.0 -2.0M1816.7 322.1l1.2 -2.3M1199.2 92.9l1.2 -2.4M1727.6 216.8l1.2 -2.3M1832.0 143.5l1.4 -2.7M2175.5 71.9l1.0 -1.9M209.7 356.1l0.9 -1.7M749.8 649.9l1.0 -2.1M1970.8 1017.0l0.9 -1.7M558.1 12.6l1.0 -2.0M269.7 981.5l1.3 -2.6M2489.1 294.7l0.8 -1.6M1891.6 580.3l1.4 -2.8M181.1 1333.9l1.1 -2.2M1920.9 1169.2l1.1 -2.2M444.7 572.6l1.4 -2.8M1393.1 1216.7l0.8 -1.7M921.6 1239.6l1.5 -2.9M32.6 882.8l1.2 -2.4M2107.3 661.7l0.9 -1.7M749.9 1003.3l1.3 -2.5M510.8 904.7l1.2 -2.4M1644.0 31.9l1.1 -2.1M841.2 181.4l1.3 -2.5M716.8 1112.7l1.0 -2.0M288.5 1028.8l0.8 -1.7M2340.0 36.6l1.3 -2.5M921.2 253.7l1.1 -2.1M305.4 736.0l1.0 -2.0M2417.6 539.7l1.1 -2.1M569.6 1363.1l1.0 -2.0M1615.1 1171.6l1.1 -2.1M1887.8 392.8l0.9 -1.7M104.8 632.6l1.4 -2.7M506.9 620.6l1.3 -2.6M689.9 215.7l1.1 -2.3M1062.7 1320.9l1.4 -2.8M594.6 789.6l1.1 -2.1M83.9 626.1l1.4 -2.8M756.3 825.3l1.3 -2.5M272.3 425.2l1.3 -2.5M47.9 528.8l0.9 -1.7M1183.0 23.1l0.9 -1.8M555.7 115.4l0.9 -1.7M485.8 728.7l0.9 -1.7M2052.4 587.1l1.0 -1.9M602.0 1181.3l0.8 -1.6M1854.8 138.6l1.4 -2.8M2157.8 142.0l0.8 -1.6M1733.3 827.4l1.3 -2.5M694.1 699.5l0.9 -1.8M686.6 904.2l0.9 -1.7M2002.5 698.0l1.0 -1.9M286.8 716.5l1.1 -2.2M1798.2 526.7l1.1 -2.1M2230.7 386.4l1.5 -2.9M2230.7 1393.7l1.4 -2.8M642.4 1146.1l1.2 -2.4M509.4 1403.7l1.2 -2.4M2023.8 785.4l0.8 -1.7M2157.8 247.6l1.0 -1.9M1540.0 273.8l1.1 -2.2M1783.3 136.2l1.2 -2.4M260.6 670.0l1.2 -2.4M1717.9 61.5l0.9 -1.8M2399.9 550.9l1.1 -2.1M1850.5 915.3l1.1 -2.1M469.1 1336.3l1.5 -2.8M1943.0 1396.6l1.1 -2.2M2097.1 339.6l1.3 -2.6M1786.7 1321.0l1.4 -2.7M2197.6 377.6l1.3 -2.6M920.4 1124.6l1.4 -2.7M2111.2 942.2l0.9 -1.8M388.7 799.5l0.9 -1.8M841.0 145.0l0.9 -1.8M1791.9 315.8l1.4 -2.7M822.2 1194.5l1.0 -2.0M668.3 555.9l0.8 -1.6M31.1 1212.3l1.0 -2.1M0.6 1351.2l1.0 -1.9M632.0 35.0l0.9 -1.7M1773.9 819.4l1.1 -2.2M614.7 404.6l1.5 -2.9M929.9 1392.5l1.4 -2.7M311.1 1193.3l0.8 -1.6M1776.9 1139.5l1.3 -2.5M385.5 759.9l1.0 -1.9M997.3 270.2l1.3 -2.5M2304.2 1143.5l1.2 -2.3M814.8 1305.6l1.0 -2.1" stroke="#3a78e0" stroke-opacity="0.5" stroke-width="1.3" stroke-linecap="round" fill="none"/>
<path d="M254.6 469.9l1.3 -2.6M2327.6 909.1l1.3 -2.5M2342.7 1094.8l1.1 -2.2M793.6 155.6l1.3 -2.5M2021.8 350.3l1.3 -2.6M2230.9 180.4l0.9 -1.8M2373.0 1402.5l1.1 -2.2M1982.3 889.1l0.9 -1.9M2429.1 246.2l0.9 -1.7M1130.8 26.2l1.2 -2.3M1029.6 1342.9l1.1 -2.2M2123.8 1097.6l1.2 -2.4M593.9 429.8l1.2 -2.3M1516.6 1402.1l1.0 -1.9M838.7 17.8l0.9 -1.8M137.9 596.0l1.4 -2.8M1743.6 1359.7l1.4 -2.8M30.8 540.2l1.0 -2.0M1551.2 93.3l1.2 -2.4M1010.3 145.0l1.3 -2.6M2000.4 841.9l0.9 -1.8M1497.1 1226.1l1.5 -3.0M1895.5 65.8l1.4 -2.8M1661.8 390.3l1.5 -2.9M2064.7 1259.5l1.0 -2.0M739.3 1071.5l1.3 -2.5M2320.1 798.3l1.5 -2.9M1414.7 1395.9l0.8 -1.7M1816.4 1363.3l1.3 -2.5M2366.8 20.6l1.1 -2.1M2190.2 85.2l1.4 -2.7M76.5 912.7l1.4 -2.7M594.7 537.0l1.0 -1.9M1761.3 744.7l1.3 -2.5M2385.4 1097.0l1.5 -2.9M617.5 726.6l1.1 -2.2M864.7 1130.5l1.0 -1.9M2338.2 27.2l1.0 -2.0M1232.2 1317.5l0.9 -1.8M2101.4 559.6l1.2 -2.4M2319.5 91.4l1.1 -2.1M389.0 189.1l1.0 -2.0M1751.4 817.0l0.9 -1.8M2003.2 714.2l0.9 -1.8M2050.6 1155.0l1.0 -1.9M2348.4 1140.4l1.0 -1.9M1.8 1220.9l1.4 -2.8M243.3 1079.0l1.4 -2.7M1583.6 1172.0l1.5 -3.0M818.7 1173.9l1.5 -2.9M783.2 962.3l1.3 -2.6M2121.6 798.0l1.0 -2.0M628.7 764.1l0.9 -1.8M2148.4 1251.2l1.0 -2.0M1742.6 947.4l0.9 -1.8M1945.5 1078.5l1.0 -2.0M244.7 397.6l1.4 -2.7M398.5 150.8l1.1 -2.1M2199.2 228.4l0.9 -1.7M1881.5 129.7l1.3 -2.5M208.0 348.3l1.3 -2.5M2183.4 576.4l1.1 -2.2M77.2 479.9l1.0 -2.0M1971.0 1005.6l1.4 -2.7M317.5 542.4l1.0 -2.0M705.0 1040.3l1.0 -1.9M812.7 398.5l1.4 -2.8M948.9 1297.3l1.5 -2.9M2155.8 361.5l1.0 -2.0M257.1 707.1l1.4 -2.7M390.6 609.5l1.5 -3.0M2098.0 1255.4l1.1 -2.1M308.1 896.3l1.4 -2.7M2307.5 929.1l1.0 -2.0M2279.8 1275.2l1.5 -2.9M1194.6 1356.8l0.9 -1.8M2302.0 901.6l1.4 -2.8M1032.9 1394.0l0.8 -1.7M2119.0 1153.3l1.1 -2.1M2071.1 301.7l1.4 -2.7M490.8 1126.2l1.3 -2.6M222.0 1376.1l1.0 -1.9M1440.5 1253.2l1.5 -2.9M268.0 97.9l1.2 -2.3M2455.6 582.6l1.1 -2.1M1044.5 243.0l1.5 -2.9M1115.1 1378.1l1.2 -2.4M517.0 76.4l0.9 -1.8M863.8 1101.6l1.5 -2.9M590.4 1098.2l1.1 -2.2M105.7 94.3l1.3 -2.5M1722.0 536.2l1.5 -2.9M2049.5 425.4l0.9 -1.7M560.4 62.8l1.2 -2.3M84.8 1037.1l1.3 -2.5M697.5 627.6l1.0 -1.9M464.1 256.5l1.4 -2.8M868.3 1135.6l1.2 -2.4M2433.8 946.3l1.2 -2.4M1596.3 141.9l1.1 -2.1M576.2 1186.2l0.8 -1.6M1110.9 1222.6l1.4 -2.7M1796.6 424.9l1.0 -1.9M1760.1 421.2l1.3 -2.6M874.4 1070.6l1.2 -2.4M2038.0 1386.9l1.1 -2.1M2465.6 15.4l1.4 -2.8M73.9 767.7l1.1 -2.2M1924.2 443.9l1.0 -1.9M1959.5 775.1l1.4 -2.7M1222.6 52.8l1.4 -2.7M544.9 664.2l0.8 -1.6M646.8 937.2l1.4 -2.7M1831.4 941.4l1.0 -1.9M1821.4 279.0l1.0 -2.1M856.9 135.9l1.1 -2.1M1823.4 813.0l0.9 -1.9M1828.5 165.5l1.4 -2.7M368.8 136.6l1.0 -2.0M2209.7 1320.4l1.0 -2.0M1874.1 979.2l1.2 -2.4M636.6 1336.6l1.5 -3.0M32.3 465.2l1.1 -2.1M495.4 606.4l1.5 -2.9M59.2 1176.1l1.0 -2.1M33.4 1266.0l1.0 -2.0M529.7 165.1l1.1 -2.1M298.4 253.6l1.0 -2.0M761.9 740.8l1.4 -2.7M1809.4 484.4l1.5 -2.9M1977.6 791.0l1.2 -2.3M823.2 190.0l1.5 -2.9M1520.1 140.1l1.5 -2.9M2217.1 48.5l1.3 -2.6M594.8 754.5l1.4 -2.8M1662.6 271.7l1.3 -2.5M1062.6 1382.4l1.0 -1.9M1777.1 58.9l1.0 -2.0M293.7 210.5l1.2 -2.4M435.7 1118.3l0.9 -1.8M1557.0 1211.5l0.9 -1.8M543.1 1076.6l1.2 -2.3M2329.8 476.2l1.1 -2.2M2393.1 485.0l1.5 -3.0M2226.9 282.8l1.2 -2.4M2352.3 166.4l1.4 -2.8M1934.9 1054.8l1.3 -2.5M249.5 1348.4l0.9 -1.8M1958.4 1017.9l1.1 -2.1M1711.0 578.6l1.4 -2.7M107.8 1313.5l1.1 -2.2M2007.3 664.4l1.4 -2.8M752.5 767.3l0.8 -1.7M1222.4 112.7l1.4 -2.8M2435.0 1332.6l1.5 -3.0M205.5 991.3l1.3 -2.6M1514.1 23.7l1.5 -2.9M2036.4 387.8l0.8 -1.7M2308.0 381.2l0.9 -1.7M341.0 1400.0l1.4 -2.6M524.0 207.4l1.5 -2.9M327.2 582.6l1.5 -2.9M7.8 590.2l0.9 -1.7M2493.6 148.2l1.5 -2.9M2102.6 1029.6l0.9 -1.7M1737.9 694.3l1.2 -2.3M362.3 721.6l1.4 -2.7M597.4 647.7l1.3 -2.5M1424.0 1252.6l1.2 -2.3M1281.0 1391.4l1.0 -1.9M41.0 462.9l1.0 -2.1M309.5 588.8l0.9 -1.7M2301.3 682.4l1.4 -2.8M1743.1 1027.5l1.4 -2.7M753.6 1026.1l1.0 -1.9M1938.4 236.9l1.1 -2.1M2059.9 1132.7l1.5 -3.0M295.3 296.4l0.9 -1.8M1808.6 1049.3l1.3 -2.5M1948.2 726.6l1.2 -2.4M2301.9 912.7l1.3 -2.5M1891.7 806.0l0.9 -1.8M2429.3 127.8l0.8 -1.6M1803.2 556.8l1.1 -2.2M597.2 23.0l1.4 -2.8M2346.9 403.1l1.2 -2.3M808.9 83.5l1.5 -2.9M2090.7 339.9l1.0 -2.0M1744.9 1121.3l1.2 -2.3M1994.9 1215.5l1.4 -2.8M285.2 836.3l1.5 -3.0M1787.5 646.6l0.9 -1.8M150.8 1029.8l0.9 -1.7M2021.8 937.0l1.2 -2.3M2228.3 1312.5l1.3 -2.5M248.7 828.6l1.1 -2.2M623.3 1307.0l1.3 -2.6M303.8 322.9l1.1 -2.1M453.9 1013.5l1.1 -2.1M2360.9 1339.3l1.1 -2.1M1514.6 156.9l1.1 -2.2M856.0 48.6l0.9 -1.8M1400.7 241.6l1.0 -2.0M1545.4 1267.6l1.2 -2.3M636.1 824.8l1.0 -2.0M1955.2 220.4l1.0 -2.0M1096.1 1277.8l0.9 -1.9M480.4 186.1l1.0 -1.9M1898.5 568.9l1.2 -2.3M2257.2 599.7l1.5 -2.9M626.0 1376.0l1.2 -2.4M1704.4 537.1l1.0 -2.0M516.6 250.0l1.1 -2.1M5.4 1000.5l1.1 -2.2M171.9 366.4l1.0 -1.9M2056.6 774.4l1.1 -2.1M620.9 410.4l1.0 -2.0M865.1 1113.1l1.4 -2.7M1744.6 1245.5l1.3 -2.5M283.3 63.5l0.9 -1.9M644.5 744.2l1.4 -2.8M604.7 1381.6l1.4 -2.7M852.3 66.1l1.5 -3.0M639.7 1192.7l0.9 -1.8M2221.9 418.6l0.9 -1.8M496.4 1134.3l1.5 -3.0M704.8 384.0l0.9 -1.7M2461.3 62.2l1.3 -2.5M874.2 263.6l1.1 -2.2M2326.4 349.3l0.9 -1.9M2185.0 156.8l0.9 -1.9M603.8 723.6l1.2 -2.3M2234.6 659.3l0.9 -1.7M2076.6 27.0l1.1 -2.1M357.0 848.1l1.4 -2.7M321.3 415.3l1.4 -2.8M1722.1 153.8l1.3 -2.6M1984.6 575.3l0.9 -1.8M1647.0 449.7l0.9 -1.8M411.3 566.8l0.9 -1.8M1999.9 124.5l1.1 -2.1M2332.6 1216.7l1.5 -2.9M1912.5 754.6l1.4 -2.7M1430.8 166.3l1.0 -2.0M1344.9 143.2l1.3 -2.6M1988.2 1120.8l1.5 -2.8M792.6 205.8l1.4 -2.7M1732.4 523.5l1.1 -2.1M383.6 1170.8l1.2 -2.3M2029.7 478.7l1.1 -2.1M2206.1 498.0l1.3 -2.6M1008.5 1212.6l1.4 -2.7M683.7 1245.6l1.4 -2.7M762.4 120.0l1.0 -1.9M2409.8 56.5l1.4 -2.7M1392.5 128.0l1.5 -2.9M256.6 196.4l1.3 -2.6M1601.4 1135.5l1.3 -2.6M2326.3 73.5l0.8 -1.6M591.8 1096.1l0.9 -1.8M389.9 743.1l1.5 -2.9M1868.1 560.7l1.2 -2.3M694.0 1351.9l1.4 -2.7M1700.3 429.0l1.3 -2.6M909.0 1240.8l1.3 -2.6M2011.4 745.4l1.5 -3.0M17.4 1262.9l1.3 -2.6M1223.0 1195.8l0.9 -1.8M843.4 1005.1l1.4 -2.8M931.6 1399.0l1.3 -2.5M112.8 174.0l0.9 -1.7M652.3 630.2l0.9 -1.7M2271.6 1179.7l1.2 -2.4M2438.0 1345.7l1.3 -2.6M2064.5 106.7l0.9 -1.8M863.4 178.5l1.1 -2.2M2464.4 1174.7l1.5 -3.0M553.7 312.7l0.8 -1.7M683.6 80.6l1.2 -2.4M750.9 948.5l1.2 -2.4M1836.4 970.3l1.3 -2.6M714.3 57.5l1.2 -2.3M1539.8 263.1l1.4 -2.8M2196.8 1201.5l1.4 -2.8M677.1 1038.6l1.5 -3.0M277.6 9.9l1.1 -2.1M280.3 1187.5l1.1 -2.1M2270.9 464.0l1.0 -2.0M439.0 1359.0l1.2 -2.4M2063.4 89.8l1.2 -2.4M1831.9 1384.7l1.5 -2.9M258.9 526.3l1.5 -3.0M1336.7 1346.5l1.0 -2.0M63.4 1331.3l1.0 -2.0M1443.1 1314.4l1.5 -2.9M2191.9 362.4l1.4 -2.8M45.2 586.9l1.5 -2.9M635.8 517.5l1.2 -2.4M590.9 997.3l1.3 -2.5M178.2 980.4l1.1 -2.1M358.2 111.2l1.5 -3.0M1998.5 646.5l1.4 -2.7M2423.9 1303.7l1.2 -2.4M686.5 730.5l1.5 -3.0M1824.9 943.1l1.4 -2.8M2121.2 281.4l1.4 -2.8M60.9 756.3l1.2 -2.4M1072.1 5.0l0.9 -1.8M1782.5 186.4l1.0 -2.0M2018.1 1212.9l1.5 -2.8M435.6 8.6l1.4 -2.7M45.8 607.7l1.0 -2.0M1469.4 1379.8l1.0 -1.9M187.2 977.4l0.9 -1.8M556.6 619.0l1.5 -3.0M810.2 445.2l1.2 -2.3M405.2 566.9l1.3 -2.6M809.6 1120.6l1.0 -1.9M253.3 882.9l1.1 -2.3M2294.7 149.1l1.4 -2.7M320.1 861.6l1.4 -2.7M1713.7 857.9l1.1 -2.2M464.6 653.1l1.2 -2.4M2240.6 1399.9l1.2 -2.4M820.8 314.4l1.3 -2.5M1845.5 349.7l1.3 -2.6M2497.3 551.9l1.5 -2.9M2165.9 287.0l1.1 -2.1M2459.7 92.8l1.0 -2.0M1575.8 1308.6l1.3 -2.6M3.3 101.1l0.9 -1.7M1078.5 39.2l1.2 -2.4M1580.7 285.8l1.4 -2.8M1033.5 1350.7l1.1 -2.1M657.1 1097.3l0.8 -1.6M623.2 452.4l1.5 -2.8M1251.0 52.4l1.0 -2.0M1523.4 1138.1l0.9 -1.8M1947.6 550.3l1.2 -2.4M2475.6 1293.6l1.5 -2.9M1838.9 985.3l0.9 -1.8M87.5 1169.5l1.3 -2.6M667.1 1295.9l1.2 -2.4M48.9 479.8l1.1 -2.1M168.3 1376.6l1.5 -2.9M2036.3 7.1l1.1 -2.2M278.3 1021.9l1.4 -2.7M1973.0 1114.1l0.9 -1.8M32.7 131.9l1.4 -2.8M2072.5 726.7l1.0 -1.9M2141.9 170.3l1.1 -2.1M4.2 1383.0l1.1 -2.2M1927.2 1128.2l1.2 -2.4M2466.6 1090.4l1.5 -2.9M2407.8 116.8l1.4 -2.7M565.1 457.4l1.1 -2.1M2470.7 85.9l1.1 -2.2M319.6 1403.6l1.2 -2.3M1754.0 732.6l1.4 -2.7M1860.3 989.3l1.5 -2.9M772.5 1194.0l1.3 -2.6M1417.1 108.9l0.9 -1.8M777.9 174.2l0.9 -1.7M1791.5 1029.5l1.3 -2.5M514.1 1016.5l1.4 -2.8M1547.4 321.0l1.2 -2.4M370.8 1217.2l1.3 -2.5M2331.2 242.9l1.0 -2.0M1272.8 84.1l1.0 -2.0M2273.4 813.1l1.3 -2.5M915.2 2.4l1.5 -3.0M1980.6 179.0l0.9 -1.8M555.2 926.1l0.9 -1.8M49.5 695.6l0.8 -1.6M646.8 538.3l1.0 -1.9M5.7 366.5l1.0 -2.0M47.2 1178.5l1.3 -2.6M1231.8 5.0l1.0 -1.9M2251.0 643.8l1.0 -1.9M2049.4 1254.3l0.9 -1.8M292.7 450.3l1.3 -2.5M171.4 24.1l1.4 -2.8M2161.6 1273.4l0.9 -1.7M1922.8 242.6l1.1 -2.1M500.1 1210.5l1.4 -2.8M2080.8 537.8l1.5 -2.9M649.5 808.6l1.3 -2.6M583.7 537.6l0.9 -1.8M1991.1 260.0l0.9 -1.8M694.2 901.4l1.3 -2.5M1311.0 1201.4l1.4 -2.7M523.9 752.7l0.9 -1.9M604.0 207.5l0.9 -1.7M875.0 1247.6l1.3 -2.5M218.7 309.2l1.2 -2.4M1323.9 38.3l0.9 -1.8M200.4 1087.5l1.0 -2.0M849.6 1331.6l1.1 -2.2M2098.4 1390.0l1.4 -2.7M1594.6 1350.2l1.5 -3.0M1899.4 305.5l1.2 -2.4M1953.0 312.2l1.3 -2.6M1765.9 1020.6l1.5 -3.0M2496.7 1125.7l1.0 -2.0M2350.6 629.6l1.1 -2.1M64.1 662.2l1.2 -2.4M770.1 149.1l1.2 -2.3M175.8 242.5l1.1 -2.2M333.3 27.1l1.2 -2.4M2424.8 396.6l1.1 -2.1M798.0 1045.1l1.2 -2.3M1989.4 8.2l0.9 -1.8M514.8 519.8l1.1 -2.2M962.8 1358.9l1.1 -2.2M1438.3 1355.9l1.3 -2.5M1486.2 1165.6l1.1 -2.1M89.3 1347.6l1.2 -2.4M1454.6 95.0l1.4 -2.7M708.5 1292.0l1.1 -2.1M688.5 1257.8l1.0 -1.9M676.6 686.1l1.5 -3.0M288.2 297.2l1.4 -2.7M187.2 583.9l1.4 -2.7M1781.3 1116.0l0.9 -1.8M2224.0 503.3l1.4 -2.8M1178.6 1254.4l1.2 -2.3M643.9 213.0l1.2 -2.3M123.8 232.0l1.4 -2.8M1434.1 1214.5l0.9 -1.8M268.8 371.9l1.5 -2.9M1808.3 716.8l1.3 -2.5M2151.5 1342.3l1.2 -2.4M411.3 338.6l0.9 -1.8M351.6 1010.8l1.2 -2.4M771.6 1173.5l1.5 -2.9M2305.6 1385.6l0.9 -1.7M640.8 1047.2l1.5 -2.9M345.7 713.1l1.5 -3.0M2221.4 634.7l0.9 -1.8M1963.7 262.6l1.0 -2.0M2461.1 17.7l1.3 -2.5M236.9 1056.4l1.1 -2.2M2312.8 315.4l1.4 -2.8M568.5 67.9l0.9 -1.7M189.5 547.9l1.5 -3.0M886.6 1008.6l0.9 -1.7M244.4 816.4l1.1 -2.2M817.9 1168.9l1.3 -2.6M300.4 150.1l0.9 -1.7M657.8 896.5l1.5 -3.0M2421.4 1216.3l0.9 -1.8M1979.2 1072.7l1.2 -2.3M2488.8 843.1l0.9 -1.8M539.1 183.6l1.3 -2.5M1559.9 1206.9l0.8 -1.6M24.0 1368.6l1.0 -2.0M660.1 1219.5l0.9 -1.8M1981.6 1262.0l1.2 -2.4M1520.6 9.5l1.3 -2.5M1533.8 1085.2l1.2 -2.3M284.2 314.2l1.3 -2.5M198.3 151.2l1.0 -2.0M1990.3 769.4l1.1 -2.1M2409.1 817.9l1.0 -2.0M1413.1 1203.8l1.1 -2.1M2467.5 898.7l1.0 -1.9M50.0 714.7l1.0 -2.1M1497.0 1155.0l1.2 -2.3M639.4 718.3l1.2 -2.4M557.8 1076.9l1.2 -2.3M888.1 358.0l1.4 -2.8M2254.6 1320.0l1.0 -2.0M177.6 888.9l0.8 -1.7M2140.2 955.8l1.1 -2.1M399.8 514.5l1.4 -2.7M257.6 306.2l1.0 -2.0M78.0 901.0l1.2 -2.4M2309.9 781.0l1.5 -2.9M702.5 654.2l1.5 -2.9M1218.8 4.1l1.1 -2.1M493.9 877.9l1.2 -2.3M1188.5 1304.9l1.4 -2.7M217.6 44.4l1.3 -2.6M1250.5 51.5l1.1 -2.2M2088.2 847.1l0.9 -1.7M1361.7 232.6l1.3 -2.6M2311.2 1217.6l1.3 -2.5M2017.4 124.3l1.2 -2.3M2025.3 480.9l0.9 -1.8M2163.8 991.5l0.8 -1.6M158.3 785.0l1.5 -2.9M1543.9 1232.7l0.9 -1.8M1439.4 256.5l1.1 -2.1M372.7 653.0l0.9 -1.7M2261.4 1080.8l0.9 -1.7M2171.5 764.8l1.5 -2.9M1229.4 115.6l1.3 -2.6M432.4 1384.8l1.2 -2.4M2255.1 693.6l1.1 -2.1M1655.1 999.1l1.2 -2.3M688.2 592.4l1.3 -2.6M570.5 223.1l1.2 -2.3M1644.5 94.7l1.0 -2.0M2428.2 376.9l1.4 -2.7M763.6 121.8l1.2 -2.3M2173.4 1093.6l0.9 -1.7M1757.9 874.1l1.2 -2.3M457.1 978.8l0.9 -1.8M774.1 1198.5l1.2 -2.4M1380.0 32.4l1.1 -2.1M97.9 1401.5l1.5 -2.9M1633.8 223.9l1.4 -2.8M706.8 1132.7l1.3 -2.5M667.9 1174.1l1.2 -2.4M1892.1 1181.7l1.0 -2.0M1362.8 1237.8l0.9 -1.7M646.2 314.8l1.3 -2.6M851.7 1319.5l1.5 -2.9M2425.1 390.0l1.2 -2.3M260.4 506.0l0.9 -1.7M1253.3 1346.8l1.4 -2.7M2328.0 75.5l1.4 -2.8M2139.2 98.2l1.5 -2.9M1316.5 1221.6l1.5 -2.9M815.8 13.6l1.4 -2.7M185.0 108.1l1.5 -2.9M2432.7 275.5l1.3 -2.5M153.2 790.3l1.3 -2.6M392.8 1069.7l1.5 -3.0M2064.4 1113.0l1.5 -2.9M1791.0 771.2l1.4 -2.8M2015.2 885.7l1.3 -2.6M445.5 476.8l1.1 -2.1M2146.6 1099.8l1.0 -2.0M2484.3 84.0l0.9 -1.7M818.6 110.1l1.5 -2.9M2136.6 750.5l1.3 -2.5M2392.3 391.1l1.2 -2.4M1195.9 199.3l0.9 -1.8M1079.5 84.5l1.5 -2.9M112.5 914.4l0.9 -1.8M650.2 594.0l1.4 -2.7M701.3 1341.0l1.0 -1.9M330.9 772.3l1.1 -2.1M1802.8 56.8l1.3 -2.6M910.3 1304.7l1.0 -2.0M1769.8 411.0l1.1 -2.3M214.3 158.7l0.9 -1.8M458.9 259.1l1.3 -2.5M851.6 1277.7l1.0 -1.9M613.9 258.1l0.9 -1.8M627.6 1140.6l1.3 -2.6M228.4 514.0l1.5 -2.9M220.2 1089.7l1.4 -2.8M524.0 182.1l1.3 -2.6M1272.6 1345.9l1.5 -3.0M2184.8 1329.4l1.4 -2.8M60.6 183.7l1.5 -3.0M2183.8 867.1l1.3 -2.5M363.8 771.6l1.0 -2.0M304.1 1224.9l1.2 -2.4M2189.8 414.5l1.2 -2.4M691.6 1169.0l1.0 -1.9M813.5 113.7l1.2 -2.3M507.4 261.7l1.0 -2.0M2005.6 327.7l1.3 -2.5M79.6 116.8l1.3 -2.6M1241.7 159.6l1.2 -2.3M2350.7 551.2l1.2 -2.4M107.7 1242.6l1.2 -2.4M867.3 400.8l1.0 -1.9M2333.8 1183.5l1.1 -2.1M499.9 48.0l1.3 -2.6M406.3 795.2l0.8 -1.6M54.0 232.1l1.3 -2.5M1531.3 1394.8l1.3 -2.5M1304.6 20.0l1.5 -3.0M1221.6 1207.1l0.9 -1.7M2087.3 670.1l1.0 -1.9M1014.6 106.9l1.2 -2.4M547.2 987.5l0.9 -1.9M1723.9 869.6l1.3 -2.6M2375.5 416.6l1.3 -2.6M992.4 1258.4l1.4 -2.8M1908.6 844.6l1.0 -2.0M2269.0 1363.6l1.5 -2.9M844.9 1156.9l1.3 -2.6M2098.8 1128.9l1.1 -2.3M987.3 1119.9l1.3 -2.5M1348.5 1229.3l0.8 -1.7M33.0 654.3l0.9 -1.8M2104.8 125.4l1.5 -2.8M561.9 189.8l1.4 -2.7M2370.8 714.8l1.2 -2.4M1724.4 158.1l1.3 -2.6M2320.9 1071.3l1.2 -2.4M883.2 138.2l0.9 -1.7M1347.4 1238.8l1.4 -2.8M457.7 1054.7l1.4 -2.7M1199.4 1207.7l1.0 -1.9" stroke="#9cbcf2" stroke-opacity="0.7" stroke-width="1.5" stroke-linecap="round" fill="none"/>
<path d="M1815.4 633.8l2.8 -5.5M2165.9 554.0l3.0 -5.9M557.3 682.6l3.6 -7.0M1231.3 20.7l4.1 -8.0M718.1 771.3l4.1 -8.0M515.5 92.5l2.6 -5.1M380.8 1200.0l3.2 -6.3M103.4 385.0l3.2 -6.3M433.9 434.6l3.9 -7.8M1492.3 161.7l3.2 -6.3M1618.0 128.0l3.3 -6.4M771.9 1050.4l3.4 -6.7M2272.4 856.3l2.6 -5.1M461.9 993.2l3.8 -7.4M155.0 588.9l2.8 -5.4M1166.8 1229.9l3.3 -6.5M1859.1 1078.1l2.8 -5.4M1665.7 240.5l3.8 -7.5M400.6 443.9l3.8 -7.5M2461.0 519.6l4.0 -7.9M92.3 1345.7l2.6 -5.1M86.1 1073.8l2.5 -5.0M1879.2 12.3l2.5 -4.8M892.3 121.8l3.1 -6.1M863.6 1041.5l3.2 -6.2M2411.9 1188.5l2.6 -5.0M2291.7 1261.3l3.3 -6.5M801.1 312.0l2.6 -5.1M1917.2 809.6l3.8 -7.5M217.0 1194.2l3.2 -6.3M1578.5 338.7l3.6 -7.0M1459.1 199.8l2.8 -5.5M1878.3 25.8l3.4 -6.7M181.0 720.0l2.7 -5.3M513.5 329.5l3.9 -7.7M907.1 1241.1l3.6 -7.1M671.1 781.1l2.2 -4.4M2330.9 889.5l2.4 -4.8M1674.8 410.7l4.0 -7.8M1554.6 105.9l3.8 -7.4M2209.6 431.4l3.6 -7.0M2149.3 1242.3l2.4 -4.6M2090.3 352.8l3.8 -7.4M2252.7 1133.5l4.1 -8.1M2394.9 809.5l3.6 -7.1M537.5 370.8l3.8 -7.5M2113.5 984.0l3.5 -6.9M1664.6 13.3l3.1 -6.0M2422.7 292.3l3.1 -6.1M191.9 362.2l3.8 -7.4M80.0 1126.8l3.7 -7.4M2168.3 365.4l4.0 -7.9M2375.1 769.1l3.5 -6.9M274.6 9.4l2.7 -5.4M262.9 1161.1l2.7 -5.3M2392.7 956.3l2.6 -5.1M1775.2 450.3l3.2 -6.3M187.9 1174.6l3.7 -7.3M848.3 182.3l2.8 -5.6M1848.5 794.1l2.5 -4.9M600.7 670.1l2.3 -4.4M110.7 634.9l2.5 -4.9M2220.4 184.6l3.7 -7.2M1985.0 446.7l3.3 -6.4M2478.7 870.6l3.0 -5.8M2437.7 369.1l4.0 -7.9M773.5 595.4l2.8 -5.5M1628.0 1244.1l3.5 -6.9M453.2 1395.9l3.6 -7.1M1264.4 1197.0l2.4 -4.8M1940.3 948.5l2.3 -4.6M1469.4 1254.5l2.8 -5.4M685.9 261.7l2.4 -4.8M2122.2 1295.3l2.5 -4.8M898.7 1275.1l3.9 -7.6M2444.6 1398.2l2.8 -5.5M164.7 354.1l3.2 -6.2M36.7 359.7l3.1 -6.1M1703.0 219.8l2.5 -4.8M824.4 130.2l2.5 -4.8M255.9 1128.2l3.9 -7.7M104.8 1134.8l3.8 -7.5M2049.0 116.7l2.3 -4.5M2384.7 315.1l4.0 -7.8M1884.2 68.2l2.4 -4.7M1614.1 208.7l3.5 -6.9M1679.5 328.5l3.1 -6.1M528.2 1228.4l3.4 -6.7M1726.5 876.2l2.3 -4.6M2213.6 1098.9l3.2 -6.3M1887.2 752.2l2.8 -5.4M10.4 736.1l3.9 -7.6M1796.9 297.2l3.2 -6.3M1719.1 1242.0l3.2 -6.3M1959.1 958.5l2.5 -4.8M646.2 443.7l2.9 -5.7M2493.1 1035.0l2.9 -5.8M1748.7 1302.5l2.5 -5.0M1571.5 1350.9l2.9 -5.8M2192.1 1132.8l2.8 -5.6M359.4 1136.8l3.0 -5.9M1818.5 1261.1l4.0 -7.8M1914.5 250.0l2.9 -5.7M15.8 284.9l2.9 -5.6M441.9 671.9l2.5 -4.9M616.0 967.1l2.9 -5.6M57.8 1182.3l3.7 -7.2M2194.3 415.8l2.7 -5.4M1738.9 209.8l4.1 -8.0M127.4 401.3l3.0 -6.0M2450.0 206.9l3.4 -6.6M192.7 1369.1l3.6 -7.2M2029.8 1055.9l2.6 -5.0M601.5 58.4l3.3 -6.4M201.5 267.3l2.6 -5.0M2298.9 1112.9l2.8 -5.4M2425.9 226.6l2.5 -4.9M952.0 1135.0l2.4 -4.7M1970.2 768.6l3.7 -7.4M840.1 61.6l2.4 -4.7M1806.2 716.5l3.7 -7.2M495.7 395.3l2.6 -5.2M2125.7 991.1l2.5 -4.9M1812.5 57.5l3.1 -6.1M641.1 1078.6l3.6 -7.1M1708.4 279.6l2.3 -4.5M21.2 1182.7l3.9 -7.7M1625.8 1305.0l3.5 -6.8M1223.1 49.4l3.3 -6.4M984.0 313.7l2.8 -5.5M1866.1 1248.0l3.1 -6.1M2112.4 179.6l3.2 -6.3M1859.6 1101.1l3.0 -5.8M418.2 1354.2l3.4 -6.6M281.2 804.9l3.0 -5.9M2223.3 936.1l3.7 -7.2M333.1 1404.0l3.3 -6.5M1492.4 269.0l2.4 -4.7M1761.5 1024.6l3.5 -6.9M635.0 688.1l3.7 -7.2M1600.3 1281.3l2.4 -4.7M1935.7 22.0l3.4 -6.7M1333.9 107.2l3.0 -5.9M1668.8 1221.8l2.4 -4.7M2345.8 484.1l2.6 -5.1M362.0 311.7l3.0 -5.9M1766.1 1320.4l3.3 -6.5M2381.2 603.6l3.5 -6.8M-0.8 590.8l2.3 -4.5M329.2 1139.5l2.4 -4.8" stroke="#2f74e6" stroke-opacity="0.5" stroke-width="2.2" stroke-linecap="round" fill="none"/>
<path d="M1816.2 632.3l1.3 -2.5M2166.7 552.4l1.4 -2.7M558.2 680.7l1.6 -3.2M1232.4 18.5l1.9 -3.6M719.2 769.2l1.9 -3.6M516.2 91.1l1.2 -2.3M381.7 1198.3l1.5 -2.9M104.2 383.3l1.5 -2.9M435.0 432.5l1.8 -3.5M1493.2 160.0l1.5 -2.9M1618.9 126.2l1.5 -2.9M772.9 1048.6l1.6 -3.0M2273.1 854.9l1.2 -2.3M462.9 991.1l1.7 -3.4M155.7 587.4l1.3 -2.5M1167.7 1228.1l1.5 -3.0M1859.9 1076.6l1.3 -2.5M1666.7 238.5l1.7 -3.4M401.7 441.9l1.8 -3.4M2462.1 517.5l1.8 -3.6M93.0 1344.3l1.2 -2.3M86.8 1072.5l1.2 -2.3M1879.8 11.0l1.1 -2.2M893.1 120.1l1.4 -2.8M864.5 1039.8l1.4 -2.8M2412.6 1187.1l1.2 -2.3M2292.6 1259.6l1.5 -3.0M801.8 310.6l1.2 -2.3M1918.2 807.6l1.7 -3.4M217.9 1192.5l1.5 -2.9M1579.5 336.8l1.6 -3.2M1459.8 198.3l1.3 -2.5M1879.2 24.0l1.6 -3.1M181.8 718.6l1.2 -2.4M514.5 327.4l1.8 -3.5M908.1 1239.1l1.7 -3.3M671.7 779.9l1.0 -2.0M2331.6 888.2l1.1 -2.2M1675.9 408.6l1.8 -3.6M1555.7 103.9l1.7 -3.4M2210.6 429.5l1.6 -3.2M2150.0 1241.1l1.1 -2.1M2091.3 350.8l1.7 -3.4M2253.8 1131.3l1.9 -3.7M2395.9 807.6l1.7 -3.3M538.5 368.8l1.8 -3.4M2114.4 982.1l1.6 -3.2M1665.4 11.7l1.4 -2.8M2423.6 290.6l1.4 -2.8M192.9 360.2l1.7 -3.4M81.0 1124.8l1.7 -3.4M2169.4 363.3l1.8 -3.6M2376.0 767.2l1.6 -3.2M275.3 7.9l1.2 -2.4M263.7 1159.7l1.2 -2.4M2393.4 954.9l1.2 -2.3M1776.1 448.6l1.5 -2.9M188.9 1172.6l1.7 -3.3M849.1 180.8l1.3 -2.6M1849.2 792.8l1.1 -2.2M601.4 668.9l1.0 -2.0M111.4 633.6l1.1 -2.2M2221.4 182.6l1.7 -3.3M1985.9 445.0l1.5 -2.9M2479.5 869.0l1.4 -2.7M2438.8 366.9l1.8 -3.6M774.2 593.9l1.3 -2.5M1629.0 1242.2l1.6 -3.2M454.2 1394.0l1.6 -3.2M1265.1 1195.7l1.1 -2.2M1940.9 947.2l1.1 -2.1M1470.2 1253.0l1.3 -2.5M686.5 260.4l1.1 -2.2M2122.9 1294.0l1.1 -2.2M899.8 1273.0l1.8 -3.5M2445.4 1396.7l1.3 -2.5M165.6 352.4l1.5 -2.9M37.5 358.0l1.4 -2.8M1703.7 218.5l1.1 -2.2M825.1 128.9l1.1 -2.2M257.0 1126.1l1.8 -3.5M105.9 1132.7l1.8 -3.4M2049.6 115.5l1.1 -2.1M2385.8 313.0l1.8 -3.6M1884.8 66.9l1.1 -2.2M1615.0 206.8l1.6 -3.1M1680.3 326.8l1.4 -2.8M529.1 1226.6l1.6 -3.1M1727.1 875.0l1.1 -2.1M2214.5 1097.2l1.5 -2.9M1888.0 750.8l1.3 -2.5M11.4 734.0l1.8 -3.5M1797.8 295.5l1.5 -2.9M1720.0 1240.3l1.5 -2.9M1959.8 957.2l1.1 -2.2M647.0 442.2l1.3 -2.6M2493.9 1033.4l1.3 -2.6M1749.4 1301.1l1.2 -2.3M1572.3 1349.4l1.3 -2.6M2192.9 1131.3l1.3 -2.5M360.2 1135.2l1.4 -2.7M1819.6 1259.0l1.8 -3.6M1915.3 248.5l1.3 -2.6M16.6 283.4l1.3 -2.6M442.6 670.6l1.1 -2.2M616.7 965.6l1.3 -2.6M58.8 1180.4l1.7 -3.3M2195.1 414.4l1.2 -2.4M1740.0 207.6l1.9 -3.6M128.2 399.7l1.4 -2.7M2450.9 205.1l1.5 -3.0M193.7 1367.2l1.7 -3.3M2030.5 1054.6l1.2 -2.3M602.4 56.7l1.5 -2.9M202.2 266.0l1.2 -2.3M2299.6 1111.4l1.3 -2.5M2426.6 225.3l1.1 -2.2M952.6 1133.7l1.1 -2.2M1971.2 766.7l1.7 -3.4M840.8 60.3l1.1 -2.2M1807.2 714.5l1.7 -3.3M496.4 393.9l1.2 -2.4M2126.4 989.8l1.2 -2.3M1813.3 55.9l1.4 -2.8M642.1 1076.7l1.6 -3.2M1709.1 278.4l1.1 -2.1M22.3 1180.6l1.8 -3.5M1626.7 1303.2l1.6 -3.1M1223.9 47.7l1.5 -2.9M984.8 312.2l1.3 -2.5M1867.0 1246.4l1.4 -2.8M2113.3 177.9l1.5 -2.9M1860.4 1099.6l1.4 -2.7M419.1 1352.3l1.5 -3.0M282.0 803.3l1.4 -2.7M2224.3 934.2l1.7 -3.3M334.0 1402.2l1.5 -3.0M1493.0 267.8l1.1 -2.2M1762.4 1022.7l1.6 -3.1M636.0 686.2l1.7 -3.3M1601.0 1280.0l1.1 -2.1M1936.6 20.2l1.6 -3.1M1334.7 105.5l1.4 -2.7M1669.4 1220.6l1.1 -2.1M2346.5 482.7l1.2 -2.4M362.9 310.1l1.4 -2.7M1767.0 1318.7l1.5 -3.0M2382.1 601.7l1.6 -3.1M-0.1 589.6l1.0 -2.0M329.9 1138.2l1.1 -2.2" stroke="#e6eeff" stroke-opacity="0.95" stroke-width="2" stroke-linecap="round" fill="none"/>
</g>
<circle cx="-109" cy="214" r="543" fill="none" stroke="#0a5ab8" stroke-opacity="0.7" stroke-width="4.5"/>
<circle cx="2475" cy="1192" r="543" fill="none" stroke="#0a5ab8" stroke-opacity="0.7" stroke-width="4.5"/>
<line x1="1828.4" y1="1080.4" x2="1944.4" y2="1052" stroke="#1a64d2" stroke-opacity="0.55" stroke-width="1.1"/>
<circle cx="1250" cy="703" r="543" fill="none" stroke="#0a70c8" stroke-width="5"/>
<path d="M1233.28,659.92 L985.07,315.08 A18,18 0 0 1 990.08,289.33 A490,490 0 0 1 1511.95,288.98 A18,18 0 0 1 1517.03,314.68 L1270.67,659.84 A23,23 0 0 1 1233.28,659.92 Z" fill="url(#gDATA)"/>
<path d="M1202.56,710.07 L797.26,836.99 A18,18 0 0 1 774.40,824.10 A490,490 0 0 1 940.40,327.85 A18,18 0 0 1 966.38,331.25 L1214.33,674.66 A23,23 0 0 1 1202.56,710.07 Z" fill="url(#gSTATE)"/>
<path d="M1286.09,673.99 L1535.17,330.04 A18,18 0 0 1 1561.21,326.71 A490,490 0 0 1 1724.82,823.33 A18,18 0 0 1 1701.97,836.14 L1297.83,709.42 A23,23 0 0 1 1286.09,673.99 Z" fill="url(#gEXIT)"/>
<path d="M1215.26,728.01 L812.03,857.49 A18,18 0 0 0 800.76,881.16 A490,490 0 0 0 1221.46,1191.89 A18,18 0 0 0 1240.77,1174.13 L1245.29,750.15 A23,23 0 0 0 1215.26,728.01 Z" fill="url(#gSEQ)"/>
<path d="M1266.29,750.79 L1267.05,1175.24 A18,18 0 0 0 1286.15,1193.18 A490,490 0 0 0 1710.60,887.22 A18,18 0 0 0 1699.60,863.42 L1296.57,728.93 A23,23 0 0 0 1266.29,750.79 Z" fill="url(#gPROP)"/>
<text x="1181.34" y="324.30" font-size="53" fill="#fff" textLength="127.56" lengthAdjust="spacingAndGlyphs">DATA</text>
<text x="1083.87" y="384.10" font-size="53" fill="#fff" textLength="329.77" lengthAdjust="spacingAndGlyphs">AVAILABILITY</text>
<text x="883.44" y="604.80" font-size="53" fill="#fff" textLength="149.67" lengthAdjust="spacingAndGlyphs">STATE</text>
<text x="811.31" y="664.70" font-size="53" fill="#fff" textLength="294.74" lengthAdjust="spacingAndGlyphs">VAILDATION</text>
<text x="1479.03" y="604.70" font-size="53" fill="#fff" textLength="107.47" lengthAdjust="spacingAndGlyphs">EXIT</text>
<text x="1425.94" y="664.50" font-size="53" fill="#fff" textLength="222.37" lengthAdjust="spacingAndGlyphs">WINDOW</text>
<text x="903.67" y="940.80" font-size="53" fill="#fff" textLength="302.39" lengthAdjust="spacingAndGlyphs">SEQUENCER</text>
<text x="953.95" y="1000.50" font-size="53" fill="#fff" textLength="202.66" lengthAdjust="spacingAndGlyphs">FAILURE</text>
<text x="1318.75" y="940.60" font-size="53" fill="#fff" textLength="266.97" lengthAdjust="spacingAndGlyphs">PROPOSER</text>
<text x="1356.87" y="1000.20" font-size="53" fill="#fff" textLength="201.64" lengthAdjust="spacingAndGlyphs">FAILURE</text>
<svg x="120.45" y="1236.2" width="62.5" height="62.5" viewBox="0 0 2500 2500">
<path fill="#213147" d="M226,760v980c0,63,33,120,88,152l849,490c54,31,121,31,175,0l849-490c54-31,88-89,88-152V760c0-63-33-120-88-152l-849-490c-54-31-121-31-175,0L314,608c-54,31-87,89-87,152H226z"/>
<path fill="#12AAFF" d="M1435,1440l-121,332c-3,9-3,19,0,29l208,571l241-139l-289-793C1467,1422,1442,1422,1435,1440z"/>
<path fill="#12AAFF" d="M1678,882c-7-18-32-18-39,0l-121,332c-3,9-3,19,0,29l341,935l241-139L1678,883V882z"/>
<path fill="#9DCCED" d="M1250,155c6,0,12,2,17,5l918,530c11,6,17,18,17,30v1060c0,12-7,24-17,30l-918,530c-5,3-11,5-17,5s-12-2-17-5l-918-530c-11-6-17-18-17-30V719c0-12,7-24,17-30l918-530c5-3,11-5,17-5l0,0V155z M1250,0c-33,0-65,8-95,25L237,555c-59,34-95,96-95,164v1060c0,68,36,130,95,164l918,530c29,17,62,25,95,25s65-8,95-25l918-530c59-34,95-96,95-164V719c0-68-36-130-95-164L1344,25c-29-17-62-25-95-25l0,0H1250z"/>
<polygon fill="#213147" points="642,2179 727,1947 897,2088 738,2234"/>
<path fill="#FFFFFF" d="M1172,644H939c-17,0-33,11-39,27L401,2039l241,139l550-1507c5-14-5-28-19-28L1172,644z"/>
<path fill="#FFFFFF" d="M1580,644h-233c-17,0-33,11-39,27L738,2233l241,139l620-1701c5-14-5-28-19-28V644z"/>
</svg>
<clipPath id="wm"><rect x="185" y="1259.2" width="190" height="16.8"/></clipPath>
<g clip-path="url(#wm)" fill="none" stroke="#fff" stroke-width="3.6" stroke-linejoin="round">
<path d="M194.4,1276.8 L201.7,1261 L204.9,1261 L212.0,1276.8"/>
<path d="M197.3,1271.05 H209.6" stroke-width="2.7"/>
<path d="M219.8,1277 V1261 H230.9 Q233.7,1261 233.7,1263.8 V1266.6 Q233.7,1269.4 230.9,1269.4 H219.8"/>
<path d="M230.2,1269.6 L234.6,1277.5" stroke-width="3.8"/>
<path d="M242.65,1277 V1261 H254.0 Q256.7,1261 256.7,1263.7 V1264.9 Q256.7,1267.6 254.0,1267.6 H242.65" />
<path d="M242.65,1267.6 H254.6 Q257.3,1267.6 257.3,1270.3 V1271.5 Q257.3,1274.2 254.6,1274.2 H242.65"/>
<path d="M266.5,1258 V1277"/>
<path d="M273,1261.1 H292.2"/>
<path d="M282.9,1258 V1277" stroke-width="4"/>
<path d="M298.8,1277 V1261 H309.8 Q312.6,1261 312.6,1263.8 V1266.5 Q312.6,1269.3 309.8,1269.3 H298.8"/>
<path d="M309.3,1269.5 L313.6,1277.5" stroke-width="3.8"/>
<path d="M321.3,1258 V1269.6 Q321.3,1274.1 325.8,1274.1 H332.4 Q336.9,1274.1 336.9,1269.6 V1258"/>
<path d="M346.0,1277 V1261 L356.3,1273.2 L366.6,1261 V1277" stroke-linejoin="miter" stroke-miterlimit="10"/>
</g>
</svg></body></html>
